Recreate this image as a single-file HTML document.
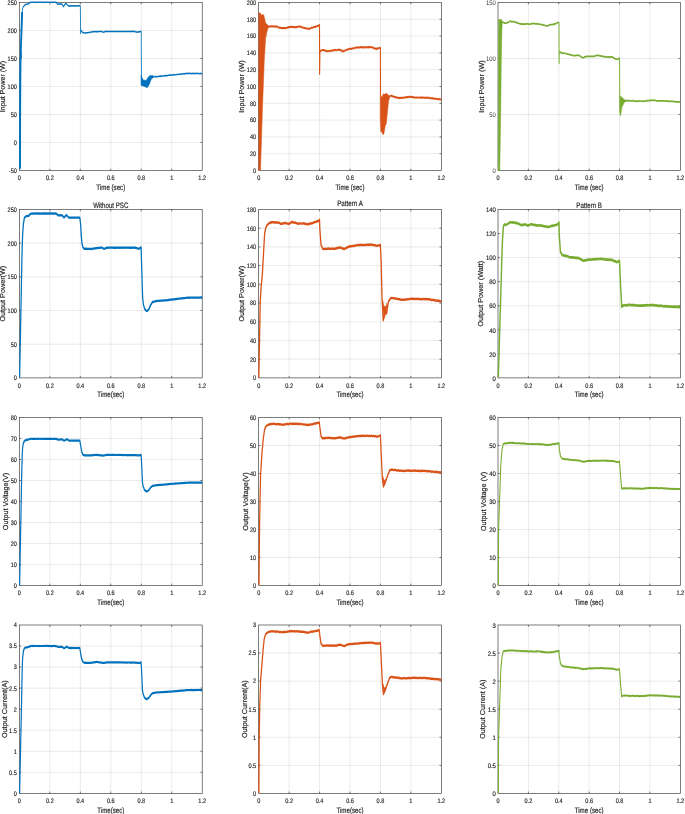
<!DOCTYPE html>
<html><head><meta charset="utf-8"><title>Simulation results</title>
<style>html,body{margin:0;padding:0;background:#fff;}body{width:685px;height:814px;overflow:hidden;}svg{display:block;}text{font-family:"Liberation Sans",Arial,Helvetica,sans-serif;fill:#262626;text-rendering:geometricPrecision;stroke:#262626;stroke-width:0.18px;}</style>
</head><body>
<svg width="685" height="814" viewBox="0 0 685 814">
<rect width="685" height="814" fill="#fff"/>
<path d="M49.87 2.5V170.5M80.33 2.5V170.5M110.8 2.5V170.5M141.27 2.5V170.5M171.73 2.5V170.5M19.4 142.5H202.2M19.4 114.5H202.2M19.4 86.5H202.2M19.4 58.5H202.2M19.4 30.5H202.2" stroke="#262626" stroke-opacity="0.13" stroke-width="0.7" fill="none"/>
<path d="M49.87 170.5v-1.8M49.87 2.5v1.8M80.33 170.5v-1.8M80.33 2.5v1.8M110.8 170.5v-1.8M110.8 2.5v1.8M141.27 170.5v-1.8M141.27 2.5v1.8M171.73 170.5v-1.8M171.73 2.5v1.8M19.4 142.5h1.8M202.2 142.5h-1.8M19.4 114.5h1.8M202.2 114.5h-1.8M19.4 86.5h1.8M202.2 86.5h-1.8M19.4 58.5h1.8M202.2 58.5h-1.8M19.4 30.5h1.8M202.2 30.5h-1.8" stroke="#262626" stroke-width="0.6" fill="none"/>
<rect x="19.4" y="2.5" width="182.8" height="168" stroke="#262626" stroke-width="0.6" fill="none"/>
<g transform="translate(19.4 0) scale(1 1)"><polyline points="0.6,168.8 0.7,120 0.9,80 1.1,60 1.6,57 1.4,50 2.1,30 2.7,12" fill="none" stroke="#0072BD" stroke-width="1.9" stroke-linejoin="round" stroke-linecap="butt"/></g>
<g transform="translate(19.4 0) scale(0.55 1)"><polyline points="3.82,30 5.27,10.2 6.73,7.2 10.55,4.6 11.45,4.47 12.36,4.38 13.27,4.33 14.18,4.13 15.09,4.02 16,3.9 16.97,3.48 17.94,2.97 18.91,2.6 20,2.45 21.09,2.3 21.91,2.33 22.73,2.36 23.56,2.22 24.38,2.26 25.2,2.22 26.02,2.36 26.84,2.34 27.66,2.21 28.48,2.4 29.31,2.39 30.13,2.33 30.95,2.32 31.77,2.23 32.59,2.2 33.41,2.31 34.23,2.21 35.06,2.24 35.88,2.25 36.7,2.21 37.52,2.29 38.34,2.29 39.16,2.37 39.98,2.3 40.81,2.33 41.63,2.3 42.45,2.33 43.27,2.29 44.09,2.26 44.91,2.4 45.73,2.4 46.56,2.37 47.38,2.34 48.2,2.26 49.02,2.25 49.84,2.26 50.66,2.21 51.48,2.35 52.31,2.28 53.13,2.37 53.95,2.28 54.77,2.39 55.59,2.37 56.41,2.2 57.23,2.24 58.06,2.38 58.88,2.29 59.7,2.4 60.52,2.28 61.34,2.21 62.16,2.33 62.98,2.36 63.81,2.25 64.63,2.22 65.45,2.27 66.27,2.39 67.09,2.3 69.09,4.1 69.93,4.15 70.76,4.02 71.6,4.05 72.44,4.02 73.27,4.01 74.11,4.16 74.95,4.04 75.78,4.11 76.62,4.09 77.45,4.1 80.18,6.6 83.82,3.6 84.73,3.69 85.64,3.9 89.45,6.1 90.27,6.05 91.09,5.9 91.94,5.83 92.8,5.93 93.65,5.82 94.51,5.88 95.36,5.84 96.21,5.85 97.07,5.99 97.92,5.96 98.77,5.86 99.63,5.98 100.48,5.84 101.34,5.88 102.19,5.97 103.04,5.93 103.9,5.82 104.75,6 105.6,5.84 106.46,5.85 107.31,5.95 108.17,5.87 109.02,5.86 109.87,5.81 110.73,5.9 111.27,33.2 112.18,30.2 114.73,32.5 115.76,32.58 116.79,32.85 117.82,33 118.66,32.89 119.5,32.91 120.35,32.81 121.19,32.77 122.03,32.82 122.88,32.67 123.72,32.63 124.56,32.64 125.4,32.45 126.25,32.39 127.09,32.4 127.92,32.4 128.75,32.31 129.58,32.12 130.4,32.03 131.23,32.06 132.06,32.02 132.89,31.79 133.72,31.87 134.55,31.7 135.37,31.77 136.2,31.7 137.03,31.65 137.86,31.58 138.69,31.55 139.52,31.73 140.34,31.57 141.17,31.65 142,31.55 142.83,31.65 143.66,31.6 144.48,31.53 145.31,31.49 146.14,31.59 146.97,31.45 147.8,31.47 148.63,31.52 149.45,31.5 150.36,31.75 151.27,31.87 152.18,31.98 153.09,32.2 154.05,32.11 155,31.79 155.95,31.58 156.91,31.5 157.73,31.45 158.56,31.49 159.39,31.41 160.21,31.43 161.04,31.47 161.86,31.5 162.69,31.42 163.51,31.46 164.34,31.56 165.16,31.58 165.99,31.51 166.81,31.52 167.64,31.5 168.46,31.41 169.29,31.38 170.12,31.38 170.94,31.56 171.77,31.51 172.59,31.56 173.42,31.37 174.24,31.49 175.07,31.46 175.89,31.51 176.72,31.43 177.54,31.56 178.37,31.37 179.19,31.47 180.02,31.5 180.85,31.53 181.67,31.5 182.5,31.49 183.32,31.51 184.15,31.53 184.97,31.42 185.8,31.48 186.62,31.52 187.45,31.52 188.27,31.42 189.1,31.5 189.92,31.51 190.75,31.45 191.58,31.46 192.4,31.41 193.23,31.45 194.05,31.45 194.88,31.34 195.7,31.45 196.53,31.52 197.35,31.5 198.18,31.47 199,31.4 199.83,31.46 200.66,31.43 201.48,31.4 202.31,31.48 203.13,31.33 203.96,31.46 204.78,31.31 205.61,31.43 206.43,31.4 207.26,31.35 208.08,31.44 208.91,31.4 209.82,31.53 210.73,31.69 211.64,31.88 212.55,31.88 213.45,31.97 214.36,32.2 215.3,32.04 216.24,32 217.18,31.79 218.12,31.67 219.06,31.7 220,31.5 221.45,31.5 221.82,80" fill="none" stroke="#0072BD" stroke-width="1.5" stroke-linejoin="round" stroke-linecap="butt"/></g>
<polygon points="141,75.4 143.2,80 146.2,80.5 148.3,77 150.3,75.4 153,75.6 153.4,77.5 151.3,79 149.3,84.6 147.3,87.7 144.2,86.4 141,85.3" fill="#0072BD" stroke="#0072BD" stroke-width="0.5" stroke-linejoin="round"/>
<g transform="translate(19.4 0) scale(0.55 1)"><polyline points="242,76.6 242.88,76.62 243.76,76.75 244.64,76.78 245.52,76.55 246.39,76.52 247.27,76.8 248.1,76.69 248.92,76.59 249.74,76.81 250.57,76.7 251.39,76.6 252.21,76.53 253.04,76.53 253.86,76.22 254.68,76.32 255.51,76.13 256.33,76.45 257.16,75.98 257.98,76.31 258.8,75.89 259.63,76.14 260.45,75.92 261.27,75.9 262.1,76.07 262.92,75.61 263.74,75.58 264.57,75.96 265.39,75.7 266.21,75.45 267.04,75.84 267.86,75.77 268.68,75.31 269.51,75.41 270.33,75.22 271.16,75.26 271.98,75.36 272.8,75.08 273.63,75.3 274.45,74.93 275.27,75.1 276.1,74.89 276.93,75.17 277.76,74.92 278.58,74.88 279.41,74.92 280.24,74.82 281.07,74.73 281.89,74.51 282.72,74.81 283.55,74.89 284.38,74.85 285.21,74.64 286.03,74.45 286.86,74.41 287.69,74.52 288.52,74.47 289.34,74.15 290.17,74.16 291,74.18 291.83,74.21 292.66,74.32 293.48,74.12 294.31,73.84 295.14,74.19 295.97,73.95 296.79,73.95 297.62,73.75 298.45,73.81 299.28,73.75 300.11,73.89 300.93,73.51 301.76,73.69 302.59,73.46 303.42,73.68 304.24,73.3 305.07,73.38 305.9,73.37 306.73,73.4 307.55,73.47 308.37,73.19 309.19,73.4 310.01,73.28 310.83,73.32 311.65,73.43 312.48,73.67 313.3,73.44 314.12,73.69 314.94,73.3 315.76,73.68 316.58,73.41 317.4,73.33 318.22,73.61 319.04,73.7 319.87,73.26 320.69,73.39 321.51,73.65 322.33,73.44 323.15,73.4 323.97,73.29 324.79,73.31 325.61,73.61 326.43,73.8 327.26,73.81 328.08,73.57 328.9,73.34 329.72,73.49 330.54,73.73 331.36,73.76 332.18,73.6" fill="none" stroke="#0072BD" stroke-width="1.5" stroke-linejoin="round" stroke-linecap="butt"/></g>
<text transform="translate(16.8 172.85) scale(0.84 1)" font-size="6.6" text-anchor="end">-50</text>
<text transform="translate(16.8 144.85) scale(0.84 1)" font-size="6.6" text-anchor="end">0</text>
<text transform="translate(16.8 116.85) scale(0.84 1)" font-size="6.6" text-anchor="end">50</text>
<text transform="translate(16.8 88.85) scale(0.84 1)" font-size="6.6" text-anchor="end">100</text>
<text transform="translate(16.8 60.85) scale(0.84 1)" font-size="6.6" text-anchor="end">150</text>
<text transform="translate(16.8 32.85) scale(0.84 1)" font-size="6.6" text-anchor="end">200</text>
<text transform="translate(16.8 4.85) scale(0.84 1)" font-size="6.6" text-anchor="end">250</text>
<text transform="translate(19.4 180.3) scale(0.84 1)" font-size="6.6" text-anchor="middle">0</text>
<text transform="translate(49.87 180.3) scale(0.84 1)" font-size="6.6" text-anchor="middle">0.2</text>
<text transform="translate(80.33 180.3) scale(0.84 1)" font-size="6.6" text-anchor="middle">0.4</text>
<text transform="translate(110.8 180.3) scale(0.84 1)" font-size="6.6" text-anchor="middle">0.6</text>
<text transform="translate(141.27 180.3) scale(0.84 1)" font-size="6.6" text-anchor="middle">0.8</text>
<text transform="translate(171.73 180.3) scale(0.84 1)" font-size="6.6" text-anchor="middle">1</text>
<text transform="translate(202.2 180.3) scale(0.84 1)" font-size="6.6" text-anchor="middle">1.2</text>
<text transform="translate(5 86.5) rotate(-90)" font-size="7.2" text-anchor="middle" textLength="51.3" lengthAdjust="spacingAndGlyphs">Input Power (W)</text>
<text x="110.8" y="189.7" font-size="7.8" text-anchor="middle" textLength="28.9" lengthAdjust="spacingAndGlyphs">Time (sec)</text>
<path d="M289.13 2.5V170.5M319.57 2.5V170.5M350 2.5V170.5M380.43 2.5V170.5M410.87 2.5V170.5M258.7 153.7H441.3M258.7 136.9H441.3M258.7 120.1H441.3M258.7 103.3H441.3M258.7 86.5H441.3M258.7 69.7H441.3M258.7 52.9H441.3M258.7 36.1H441.3M258.7 19.3H441.3" stroke="#262626" stroke-opacity="0.13" stroke-width="0.7" fill="none"/>
<path d="M289.13 170.5v-1.8M289.13 2.5v1.8M319.57 170.5v-1.8M319.57 2.5v1.8M350 170.5v-1.8M350 2.5v1.8M380.43 170.5v-1.8M380.43 2.5v1.8M410.87 170.5v-1.8M410.87 2.5v1.8M258.7 153.7h1.8M441.3 153.7h-1.8M258.7 136.9h1.8M441.3 136.9h-1.8M258.7 120.1h1.8M441.3 120.1h-1.8M258.7 103.3h1.8M441.3 103.3h-1.8M258.7 86.5h1.8M441.3 86.5h-1.8M258.7 69.7h1.8M441.3 69.7h-1.8M258.7 52.9h1.8M441.3 52.9h-1.8M258.7 36.1h1.8M441.3 36.1h-1.8M258.7 19.3h1.8M441.3 19.3h-1.8" stroke="#262626" stroke-width="0.6" fill="none"/>
<rect x="258.7" y="2.5" width="182.6" height="168" stroke="#262626" stroke-width="0.6" fill="none"/>
<polygon points="258.8,170.4 260.5,170.4 262.6,104 264.3,60 265.6,38.5 266.8,32.5 267.8,28.5 268.6,27.2 268.1,25.5 265.5,22.8 263.8,14.9 262.5,14.5 261.5,15.5 260.5,13.2 258.8,12.8" fill="#D95319" stroke="#D95319" stroke-width="0.5" stroke-linejoin="round"/>
<g transform="translate(258.7 0) scale(0.55 1)"><polyline points="16,26.8 16.91,26.57 17.82,26.8 18.76,26.81 19.71,26.65 20.65,26.43 21.6,26.12 22.55,26.2 23.41,26.45 24.28,26.51 25.15,26.35 26.01,26.39 26.88,26.25 27.75,26.13 28.62,26.43 29.48,26.63 30.35,26.31 31.22,26.87 32.08,26.52 32.95,26.57 33.82,26.8 34.73,26.67 35.64,27.52 36.55,27.52 37.45,27.81 38.36,27.81 39.27,27.59 40.18,28.1 41.04,27.97 41.9,28.08 42.76,27.8 43.62,28.38 44.48,27.96 45.34,27.8 46.2,28.26 47.06,27.76 47.92,28.32 48.78,27.98 49.64,28 50.51,27.91 51.39,27.64 52.26,27.61 53.14,27.27 54.02,27.04 54.89,27.49 55.77,26.92 56.64,27.18 57.52,26.65 58.4,27.06 59.27,26.6 60.18,26.98 61.09,26.98 62,27.08 62.91,27.06 63.82,27.26 64.73,26.94 65.64,27.3 66.53,27.18 67.41,27.33 68.3,26.79 69.19,27.2 70.08,27.07 70.97,26.64 71.86,26.51 72.75,26.47 73.64,26.4 74.51,26.46 75.37,27.04 76.24,26.75 77.11,26.65 77.98,26.84 78.85,27.42 79.72,27.76 80.59,27.55 81.45,27.7 82.33,27.81 83.21,27.97 84.08,28.23 84.96,27.98 85.83,28.37 86.71,28.45 87.59,28.61 88.46,28.42 89.34,28.53 90.21,28.78 91.09,29 91.98,29.11 92.87,28.51 93.76,28.5 94.65,28.11 95.54,27.78 96.42,27.56 97.31,27.9 98.2,27.68 99.09,27.3 99.96,27.06 100.83,27.12 101.7,26.96 102.57,26.96 103.43,26.84 104.3,26.3 105.17,26.55 106.04,26.38 106.91,25.9 107.82,25.7 108.73,25.63 109.64,25.1 110.55,25.3 110.73,74 111.27,52 113.09,50.4 113.97,50.34 114.85,50.21 115.73,50.07 116.61,50.46 117.48,49.91 118.36,50.1 119.23,49.96 120.09,50.64 120.95,50.78 121.82,50.74 122.68,51.15 123.55,50.76 124.41,51.07 125.27,51.4 126.16,51.15 127.05,51.14 127.95,50.87 128.84,50.7 129.73,50.79 130.62,51.08 131.51,51.04 132.4,50.77 133.29,50.49 134.18,50.4 135.05,50.17 135.92,50.61 136.79,50.25 137.66,50.33 138.53,49.78 139.4,49.86 140.27,50.24 141.14,50.15 142.01,50.15 142.88,49.9 143.75,49.72 144.62,49.77 145.49,49.9 146.36,49.6 147.23,49.69 148.09,50.07 148.95,50.12 149.82,50.69 150.68,50.38 151.55,51.08 152.41,51.49 153.27,51.4 154.16,50.84 155.05,51.02 155.93,50.83 156.82,50.75 157.7,50.33 158.59,49.88 159.48,49.76 160.36,49.6 161.24,49.83 162.12,49.7 163,49.07 163.88,48.95 164.76,48.86 165.64,48.72 166.52,48.92 167.39,48.62 168.27,49.03 169.15,48.79 170.03,48.33 170.91,48.5 171.79,48.42 172.67,48.16 173.55,48.17 174.42,47.87 175.3,47.72 176.18,47.63 177.06,47.66 177.94,47.78 178.82,47.56 179.7,47.1 180.58,47.46 181.45,47.2 182.32,47.49 183.18,47.44 184.05,47.48 184.91,46.96 185.77,47.3 186.64,47.04 187.5,47.56 188.36,47.17 189.23,47.57 190.09,47.28 190.95,47.61 191.82,47.5 192.64,47.34 193.47,47.11 194.29,47.32 195.12,47.23 195.94,47.61 196.76,47.16 197.59,47.27 198.41,47.27 199.24,47.51 200.06,46.89 200.88,47.2 201.71,47.11 202.53,47.23 203.36,47.36 204.18,47 205.06,47.03 205.94,47.47 206.82,47.52 207.7,47.71 208.58,47.53 209.45,48.22 210.33,48.5 211.21,48.23 212.09,48.37 212.97,49.01 213.85,48.56 214.73,49 215.61,48.49 216.48,48.27 217.36,48.57 218.24,48.32 219.12,47.88 220,47.7 221.27,48 221.45,94" fill="none" stroke="#D95319" stroke-width="2" stroke-linejoin="round" stroke-linecap="butt"/></g>
<polygon points="380.2,93.8 382,97.6 383.3,93.8 384.5,94.3 386.4,93.3 388.9,95.5 389.8,96.8 388.5,101.5 387.2,114.4 386.4,123 385.1,126.5 383.8,134.2 382.9,134.6 382,132.5 380.8,131.6 380.2,118.7" fill="#D95319" stroke="#D95319" stroke-width="0.5" stroke-linejoin="round"/>
<g transform="translate(258.7 0) scale(0.55 1)"><polyline points="237.82,95.7 238.91,96.12 240,95.9 240.84,95.77 241.69,95.8 242.53,96.6 243.37,96.15 244.21,96.23 245.06,96.72 245.9,96.62 246.74,97.12 247.59,96.78 248.43,97.4 249.27,97.2 250.14,97.16 251.01,97.45 251.88,97.77 252.75,97.69 253.62,97.94 254.48,97.88 255.35,97.51 256.22,98.18 257.09,98 257.98,97.99 258.87,97.73 259.76,97.57 260.65,97.96 261.55,97.71 262.44,97.89 263.33,97.7 264.22,97.76 265.11,97.42 266,97.3 266.84,97.39 267.67,97.28 268.51,96.98 269.35,97.42 270.18,96.92 271.02,97.2 271.85,97.27 272.69,97.01 273.53,96.6 274.36,96.8 275.26,97.09 276.15,97.04 277.04,96.77 277.93,96.74 278.83,97.14 279.72,96.85 280.61,97.54 281.5,97.31 282.4,97.38 283.29,97.37 284.18,97.5 285.07,97.62 285.96,97.81 286.85,97.4 287.75,97.45 288.64,97.61 289.53,97.42 290.42,97.64 291.31,97.61 292.2,97.54 293.09,97.6 293.96,97.72 294.84,97.62 295.71,97.31 296.58,97.95 297.45,97.5 298.33,97.55 299.2,97.53 300.07,97.9 300.95,97.92 301.82,97.6 302.66,97.65 303.49,97.62 304.33,97.45 305.17,98.05 306.01,97.59 306.85,97.9 307.69,97.81 308.53,97.84 309.36,97.9 310.2,97.83 311.04,97.76 311.88,98.16 312.72,98.38 313.56,98.33 314.39,98.06 315.23,98.45 316.07,98.04 316.91,98.4 317.74,98.39 318.57,98.73 319.39,98.84 320.22,98.57 321.05,98.89 321.88,98.7 322.71,98.77 323.54,98.86 324.36,99.19 325.19,99.07 326.02,98.93 326.85,99.16 327.68,99.15 328.51,99 329.33,99.35 330.16,99.42 330.99,99.33 331.82,99.3" fill="none" stroke="#D95319" stroke-width="2" stroke-linejoin="round" stroke-linecap="butt"/></g>
<text transform="translate(256.1 172.85) scale(0.84 1)" font-size="6.6" text-anchor="end">0</text>
<text transform="translate(256.1 156.05) scale(0.84 1)" font-size="6.6" text-anchor="end">20</text>
<text transform="translate(256.1 139.25) scale(0.84 1)" font-size="6.6" text-anchor="end">40</text>
<text transform="translate(256.1 122.45) scale(0.84 1)" font-size="6.6" text-anchor="end">60</text>
<text transform="translate(256.1 105.65) scale(0.84 1)" font-size="6.6" text-anchor="end">80</text>
<text transform="translate(256.1 88.85) scale(0.84 1)" font-size="6.6" text-anchor="end">100</text>
<text transform="translate(256.1 72.05) scale(0.84 1)" font-size="6.6" text-anchor="end">120</text>
<text transform="translate(256.1 55.25) scale(0.84 1)" font-size="6.6" text-anchor="end">140</text>
<text transform="translate(256.1 38.45) scale(0.84 1)" font-size="6.6" text-anchor="end">160</text>
<text transform="translate(256.1 21.65) scale(0.84 1)" font-size="6.6" text-anchor="end">180</text>
<text transform="translate(256.1 4.85) scale(0.84 1)" font-size="6.6" text-anchor="end">200</text>
<text transform="translate(258.7 180.3) scale(0.84 1)" font-size="6.6" text-anchor="middle">0</text>
<text transform="translate(289.13 180.3) scale(0.84 1)" font-size="6.6" text-anchor="middle">0.2</text>
<text transform="translate(319.57 180.3) scale(0.84 1)" font-size="6.6" text-anchor="middle">0.4</text>
<text transform="translate(350 180.3) scale(0.84 1)" font-size="6.6" text-anchor="middle">0.6</text>
<text transform="translate(380.43 180.3) scale(0.84 1)" font-size="6.6" text-anchor="middle">0.8</text>
<text transform="translate(410.87 180.3) scale(0.84 1)" font-size="6.6" text-anchor="middle">1</text>
<text transform="translate(441.3 180.3) scale(0.84 1)" font-size="6.6" text-anchor="middle">1.2</text>
<text transform="translate(244.4 86.5) rotate(-90)" font-size="7.2" text-anchor="middle" textLength="52.3" lengthAdjust="spacingAndGlyphs">Input Power (W)</text>
<text x="350" y="189.7" font-size="7.8" text-anchor="middle" textLength="28.9" lengthAdjust="spacingAndGlyphs">Time (sec)</text>
<path d="M528.38 2.5V170.5M558.77 2.5V170.5M589.15 2.5V170.5M619.53 2.5V170.5M649.92 2.5V170.5M498 114.5H680.3M498 58.5H680.3" stroke="#262626" stroke-opacity="0.13" stroke-width="0.7" fill="none"/>
<path d="M528.38 170.5v-1.8M528.38 2.5v1.8M558.77 170.5v-1.8M558.77 2.5v1.8M589.15 170.5v-1.8M589.15 2.5v1.8M619.53 170.5v-1.8M619.53 2.5v1.8M649.92 170.5v-1.8M649.92 2.5v1.8M498 114.5h1.8M680.3 114.5h-1.8M498 58.5h1.8M680.3 58.5h-1.8" stroke="#262626" stroke-width="0.6" fill="none"/>
<rect x="498" y="2.5" width="182.3" height="168" stroke="#262626" stroke-width="0.6" fill="none"/>
<polygon points="498.3,170.4 499.8,170.4 500.6,120 501.3,60 501.9,30 502.3,22.5 501.8,19.8 500.6,19.2 499.5,19.6 498.6,19.3" fill="#77AC30" stroke="#77AC30" stroke-width="0.5" stroke-linejoin="round"/>
<g transform="translate(498 0) scale(0.55 1)"><polyline points="6.91,21.5 8.36,22.3 9.3,22.21 10.24,22.47 11.18,22.84 12.12,23.21 13.06,23.08 14,23.5 14.87,23.03 15.74,22.87 16.61,22.95 17.47,22.36 18.34,22.48 19.21,22.2 20.08,21.65 20.95,21.65 21.82,21.4 22.71,21.43 23.6,21.47 24.49,21.88 25.38,21.4 26.27,21.41 27.16,22.02 28.05,21.76 28.95,21.7 29.84,21.84 30.73,22 31.64,22.1 32.55,22.63 33.45,22.37 34.36,22.55 35.27,22.9 36.09,23.09 36.91,23.2 37.73,23.58 38.55,23.65 39.36,23.5 40.18,23.55 41,24.06 41.82,24 42.65,24.29 43.49,23.72 44.32,24.14 45.16,24.22 45.99,24.09 46.82,23.83 47.66,24.18 48.49,24.14 49.33,23.82 50.16,24.08 50.99,23.83 51.83,23.72 52.66,23.9 53.5,23.9 54.33,23.94 55.17,24.09 56,24 56.83,24.15 57.66,24.17 58.48,24.12 59.31,24.07 60.14,23.9 60.97,23.55 61.8,23.42 62.63,23.63 63.45,23.5 64.31,23.57 65.16,23.68 66.01,23.37 66.87,23.47 67.72,23.94 68.57,23.79 69.43,23.89 70.28,23.57 71.13,23.79 71.99,24.13 72.84,24.01 73.69,24.26 74.55,24 75.37,23.93 76.2,24.2 77.03,24.51 77.86,24.41 78.69,24.73 79.52,24.7 80.34,24.55 81.17,24.65 82,25.29 82.83,24.88 83.66,25.04 84.48,25.23 85.31,25.57 86.14,25.77 86.97,25.65 87.8,25.78 88.63,26.06 89.45,26 90.28,25.7 91.11,25.59 91.94,25.57 92.77,25.42 93.6,24.89 94.42,24.77 95.25,24.62 96.08,24.8 96.91,24.5 97.74,24.55 98.57,24.65 99.39,24.46 100.22,24.09 101.05,24.33 101.88,24.39 102.71,23.94 103.54,23.67 104.36,23.9 105.3,23.59 106.24,23.3 107.18,23.01 108.12,22.69 109.06,22.51 110,22.5 110.91,22.6 111.09,63.5 111.45,52 112.55,51.5 114.55,53 115.44,53.27 116.33,52.84 117.22,53.23 118.12,53.04 119.01,53.09 119.9,53.52 120.79,53.26 121.69,53.25 122.58,53.46 123.47,53.66 124.36,53.6 125.22,53.76 126.08,54.1 126.94,53.97 127.79,54.19 128.65,54.44 129.51,54.43 130.36,54.6 131.25,54.85 132.14,54.82 133.03,54.75 133.92,54.86 134.81,55.38 135.7,55.48 136.59,55.72 137.47,55.69 138.36,55.7 139.25,55.71 140.15,55.42 141.04,55.79 141.93,55.31 142.82,55.45 143.71,55.24 144.6,55.35 145.49,55.26 146.38,55.3 147.27,55.3 148.14,55.75 149,55.97 149.86,56.12 150.73,56.77 151.59,57.07 152.45,57.45 153.32,57.29 154.18,57.9 155.04,57.75 155.9,57.71 156.75,57.11 157.61,56.86 158.47,57.02 159.32,56.53 160.18,56.4 161.01,56.34 161.83,56.59 162.65,56.33 163.48,56.22 164.3,56.23 165.12,56.31 165.95,56.52 166.77,56.32 167.59,56.56 168.42,56.14 169.24,56.25 170.06,56.47 170.89,56.39 171.71,56.4 172.53,56.66 173.36,56.27 174.18,56.4 175.07,56.09 175.96,55.88 176.85,56.02 177.74,55.79 178.63,55.77 179.52,55.37 180.4,55.24 181.29,55.35 182.18,55.3 183.03,55.56 183.87,55.39 184.71,55.87 185.56,55.78 186.4,55.78 187.25,56.11 188.09,55.89 188.94,56.22 189.78,56.47 190.62,56.4 191.47,56.37 192.31,56.34 193.16,56.74 194,56.8 194.82,56.63 195.65,56.76 196.47,56.88 197.29,57.14 198.12,56.99 198.94,56.92 199.76,57.14 200.59,56.83 201.41,56.89 202.24,57.08 203.06,57.03 203.88,56.84 204.71,56.98 205.53,57.24 206.35,56.91 207.18,57.21 208,57.1 208.89,57.1 209.78,57.91 210.67,58.01 211.56,58.06 212.44,58.72 213.33,58.88 214.22,58.7 215.11,59.08 216,59.5 217,59.22 218,59.25 219,58.46 220,58.4 221.09,58.6 221.45,96.5" fill="none" stroke="#77AC30" stroke-width="1.7" stroke-linejoin="round" stroke-linecap="butt"/></g>
<polygon points="619.4,96 621,96.5 624,99.3 626.8,101 624.2,102.6 621.8,107.5 620.6,115.8 619.6,112.5" fill="#77AC30" stroke="#77AC30" stroke-width="0.5" stroke-linejoin="round"/>
<g transform="translate(498 0) scale(0.55 1)"><polyline points="232.73,100.6 233.55,100.36 234.38,100.46 235.2,100.53 236.03,100.9 236.85,100.67 237.68,100.82 238.5,100.47 239.33,100.73 240.15,100.94 240.98,100.77 241.8,101.04 242.63,101.01 243.45,100.8 244.28,100.77 245.11,100.59 245.94,101.09 246.77,100.75 247.6,100.73 248.42,101.21 249.25,101.32 250.08,101.36 250.91,101.2 251.73,101.48 252.56,101.03 253.38,100.97 254.21,101 255.03,101.52 255.85,101.01 256.68,101.04 257.5,100.97 258.33,100.99 259.15,100.99 259.98,101.19 260.8,101.08 261.62,101.17 262.45,101.55 263.27,101.3 264.1,101.04 264.92,101.37 265.74,101.27 266.57,101.11 267.39,101.05 268.21,101.11 269.04,100.94 269.86,100.67 270.68,100.67 271.51,100.56 272.33,100.59 273.16,100.89 273.98,100.49 274.8,100.22 275.63,100.4 276.45,100.55 277.27,100.3 278.11,100.29 278.96,100.47 279.8,100.13 280.64,100.14 281.48,100.53 282.33,100.19 283.17,100.37 284.01,100.44 284.85,100.35 285.69,100.28 286.54,100.29 287.38,100.89 288.22,100.76 289.06,100.94 289.9,100.69 290.75,100.99 291.59,100.96 292.43,100.84 293.27,100.8 294.14,100.83 295,100.84 295.86,100.69 296.73,100.79 297.59,101.02 298.45,100.72 299.32,101.13 300.18,100.94 301.05,101.01 301.91,101.16 302.77,101.07 303.64,101 304.52,100.81 305.4,100.89 306.28,100.77 307.16,100.81 308.04,101.39 308.92,101.19 309.8,101.44 310.69,101.35 311.57,101.1 312.45,101.51 313.33,101.51 314.21,101.25 315.09,101.3 315.94,101.09 316.79,101.28 317.65,101.23 318.5,101.39 319.35,101.26 320.2,101.68 321.05,101.88 321.9,101.46 322.76,101.85 323.61,101.77 324.46,101.75 325.31,102.05 326.16,101.77 327.01,102.08 327.87,101.65 328.72,102.25 329.57,101.83 330.42,101.76 331.27,102.1" fill="none" stroke="#77AC30" stroke-width="1.7" stroke-linejoin="round" stroke-linecap="butt"/></g>
<text transform="translate(495.9 173.25) scale(0.9 1)" font-size="6.6" text-anchor="end" style="stroke-width:0;fill:#3a3a3a">0</text>
<text transform="translate(495.9 117.25) scale(0.9 1)" font-size="6.6" text-anchor="end" style="stroke-width:0;fill:#3a3a3a">50</text>
<text transform="translate(495.9 61.25) scale(0.9 1)" font-size="6.6" text-anchor="end" style="stroke-width:0;fill:#3a3a3a">100</text>
<text transform="translate(495.9 5.25) scale(0.9 1)" font-size="6.6" text-anchor="end" style="stroke-width:0;fill:#3a3a3a">150</text>
<text transform="translate(498 180.3) scale(0.84 1)" font-size="6.6" text-anchor="middle">0</text>
<text transform="translate(528.38 180.3) scale(0.84 1)" font-size="6.6" text-anchor="middle">0.2</text>
<text transform="translate(558.77 180.3) scale(0.84 1)" font-size="6.6" text-anchor="middle">0.4</text>
<text transform="translate(589.15 180.3) scale(0.84 1)" font-size="6.6" text-anchor="middle">0.6</text>
<text transform="translate(619.53 180.3) scale(0.84 1)" font-size="6.6" text-anchor="middle">0.8</text>
<text transform="translate(649.92 180.3) scale(0.84 1)" font-size="6.6" text-anchor="middle">1</text>
<text transform="translate(680.3 180.3) scale(0.84 1)" font-size="6.6" text-anchor="middle">1.2</text>
<text transform="translate(483.6 86.5) rotate(-90)" font-size="7.2" text-anchor="middle" textLength="52.3" lengthAdjust="spacingAndGlyphs">Input Power (W)</text>
<text x="589.15" y="189.7" font-size="7.8" text-anchor="middle" textLength="28.9" lengthAdjust="spacingAndGlyphs">Time (sec)</text>
<path d="M49.87 209.5V377.9M80.33 209.5V377.9M110.8 209.5V377.9M141.27 209.5V377.9M171.73 209.5V377.9M19.4 344.22H202.2M19.4 310.54H202.2M19.4 276.86H202.2M19.4 243.18H202.2" stroke="#262626" stroke-opacity="0.13" stroke-width="0.7" fill="none"/>
<path d="M49.87 377.9v-1.8M49.87 209.5v1.8M80.33 377.9v-1.8M80.33 209.5v1.8M110.8 377.9v-1.8M110.8 209.5v1.8M141.27 377.9v-1.8M141.27 209.5v1.8M171.73 377.9v-1.8M171.73 209.5v1.8M19.4 344.22h1.8M202.2 344.22h-1.8M19.4 310.54h1.8M202.2 310.54h-1.8M19.4 276.86h1.8M202.2 276.86h-1.8M19.4 243.18h1.8M202.2 243.18h-1.8" stroke="#262626" stroke-width="0.6" fill="none"/>
<rect x="19.4" y="209.5" width="182.8" height="168.4" stroke="#262626" stroke-width="0.6" fill="none"/>
<g transform="translate(19.4 0) scale(0.55 1)"><polyline points="0.36,377.5 4.55,259 5.27,243.5 6,233.4 7.27,223.9 9.09,217.8 11.27,216.6 12.18,216.42 13.09,216.23 14,216.1 15.03,215.96 16.06,215.95 17.09,215.8 20.18,213.8 21.09,213.75 22,213.7 22.91,213.63 23.82,213.55 24.73,213.5 25.56,213.53 26.39,213.51 27.23,213.53 28.06,213.52 28.89,213.54 29.72,213.49 30.56,213.46 31.39,213.46 32.22,213.53 33.05,213.46 33.89,213.52 34.72,213.51 35.55,213.45 36.39,213.53 37.22,213.44 38.05,213.54 38.88,213.54 39.72,213.47 40.55,213.53 41.38,213.53 42.21,213.46 43.05,213.52 43.88,213.45 44.71,213.55 45.55,213.52 46.38,213.56 47.21,213.45 48.04,213.48 48.88,213.51 49.71,213.51 50.54,213.46 51.37,213.55 52.21,213.54 53.04,213.48 53.87,213.46 54.71,213.52 55.54,213.49 56.37,213.52 57.2,213.5 58.04,213.49 58.87,213.44 59.7,213.46 60.53,213.5 61.37,213.53 62.2,213.49 63.03,213.53 63.87,213.5 64.7,213.55 65.53,213.52 66.36,213.5 67.2,213.84 68.04,214.18 68.87,214.53 69.71,214.88 70.55,215.3 71.37,215.34 72.2,215.34 73.03,215.33 73.86,215.25 74.69,215.32 75.52,215.26 76.34,215.35 77.17,215.32 78,215.3 81.09,217.6 85.45,214.9 89.64,217.6 90.48,217.63 91.32,217.61 92.16,217.59 93,217.64 93.84,217.66 94.68,217.57 95.52,217.59 96.36,217.63 97.2,217.62 98.05,217.59 98.89,217.59 99.73,217.66 100.57,217.57 101.41,217.57 102.25,217.62 103.09,217.57 103.93,217.65 104.77,217.58 105.61,217.65 106.45,217.59 107.3,217.65 108.14,217.63 108.98,217.63 109.82,217.6 111.27,224 112.36,235 113.82,243.5 115.64,247.5 117.82,248.8 118.65,248.77 119.48,248.76 120.31,248.74 121.14,248.76 121.97,248.82 122.81,248.75 123.64,248.8 124.55,248.8 125.45,248.87 126.36,248.84 127.27,248.89 128.18,248.91 129.09,248.99 130,249 130.83,248.88 131.66,248.9 132.48,248.78 133.31,248.71 134.14,248.62 134.97,248.53 135.8,248.51 136.63,248.43 137.45,248.3 138.28,248.29 139.1,248.14 139.93,248.15 140.75,248.14 141.58,248.05 142.4,247.98 143.22,247.94 144.05,247.83 144.87,247.85 145.7,247.8 146.52,247.66 147.35,247.66 148.17,247.62 148.99,247.54 149.82,247.5 150.73,247.78 151.64,248.07 152.55,248.33 153.45,248.52 154.36,248.8 155.27,248.54 156.18,248.4 157.09,248.15 158,247.96 158.91,247.7 159.73,247.74 160.55,247.67 161.38,247.71 162.2,247.68 163.02,247.74 163.84,247.72 164.67,247.67 165.49,247.7 166.31,247.71 167.13,247.67 167.96,247.66 168.78,247.7 169.6,247.65 170.42,247.7 171.25,247.75 172.07,247.74 172.89,247.65 173.71,247.74 174.54,247.73 175.36,247.72 176.18,247.64 177,247.73 177.83,247.66 178.65,247.74 179.47,247.68 180.29,247.68 181.12,247.66 181.94,247.74 182.76,247.67 183.58,247.74 184.41,247.7 185.23,247.66 186.05,247.72 186.87,247.7 187.7,247.64 188.52,247.74 189.34,247.67 190.16,247.64 190.99,247.73 191.81,247.73 192.63,247.69 193.45,247.66 194.28,247.7 195.1,247.71 195.92,247.72 196.74,247.7 197.57,247.71 198.39,247.73 199.21,247.66 200.03,247.66 200.86,247.7 201.68,247.73 202.5,247.74 203.32,247.74 204.15,247.69 204.97,247.73 205.79,247.65 206.61,247.69 207.44,247.65 208.26,247.74 209.08,247.76 209.9,247.72 210.73,247.7 211.61,247.89 212.49,248 213.38,248.21 214.26,248.28 215.14,248.47 216.03,248.62 216.91,248.8 217.78,248.56 218.65,248.2 219.53,247.92 220.4,247.63 221.27,247.4 222.91,276.8 224,297.1 225.45,304.5 227.82,309 230.18,310.6 231.27,310.84 232.36,311 235.45,309.2 238.73,304.8 242.18,302 243.02,301.85 243.86,301.8 244.7,301.6 245.55,301.54 246.39,301.34 247.23,301.3 248.07,301.18 248.91,301 249.75,301.01 250.59,300.96 251.43,300.95 252.27,300.92 253.11,300.89 253.95,300.77 254.79,300.81 255.63,300.77 256.47,300.68 257.31,300.63 258.15,300.68 258.99,300.6 259.83,300.57 260.67,300.58 261.51,300.5 262.35,300.44 263.19,300.46 264.03,300.4 264.87,300.34 265.71,300.36 266.55,300.3 267.38,300.29 268.22,300.15 269.05,300.16 269.89,300.09 270.73,300 271.56,299.9 272.4,299.9 273.24,299.79 274.07,299.73 274.91,299.7 275.73,299.69 276.56,299.56 277.39,299.49 278.21,299.53 279.04,299.49 279.86,299.35 280.69,299.31 281.51,299.27 282.34,299.24 283.16,299.1 283.99,299.12 284.82,299.02 285.64,299.05 286.47,298.93 287.29,298.94 288.12,298.83 288.94,298.8 289.77,298.67 290.59,298.64 291.42,298.59 292.25,298.55 293.07,298.47 293.9,298.45 294.72,298.35 295.55,298.36 296.37,298.35 297.2,298.28 298.02,298.2 298.85,298.19 299.68,298.11 300.5,298.04 301.33,297.97 302.15,297.87 302.98,297.91 303.8,297.86 304.63,297.79 305.45,297.7 306.29,297.72 307.12,297.73 307.96,297.74 308.8,297.73 309.63,297.7 310.47,297.6 311.3,297.71 312.14,297.66 312.97,297.64 313.81,297.63 314.64,297.6 315.48,297.57 316.31,297.63 317.15,297.63 317.98,297.56 318.82,297.65 319.65,297.64 320.49,297.63 321.32,297.59 322.16,297.56 322.99,297.57 323.83,297.55 324.66,297.61 325.5,297.6 326.34,297.59 327.17,297.54 328.01,297.53 328.84,297.55 329.68,297.49 330.51,297.47 331.35,297.56 332.18,297.5" fill="none" stroke="#0072BD" stroke-width="2.3" stroke-linejoin="round" stroke-linecap="butt"/></g>
<text transform="translate(16.8 380.25) scale(0.84 1)" font-size="6.6" text-anchor="end">0</text>
<text transform="translate(16.8 346.57) scale(0.84 1)" font-size="6.6" text-anchor="end">50</text>
<text transform="translate(16.8 312.89) scale(0.84 1)" font-size="6.6" text-anchor="end">100</text>
<text transform="translate(16.8 279.21) scale(0.84 1)" font-size="6.6" text-anchor="end">150</text>
<text transform="translate(16.8 245.53) scale(0.84 1)" font-size="6.6" text-anchor="end">200</text>
<text transform="translate(16.8 211.85) scale(0.84 1)" font-size="6.6" text-anchor="end">250</text>
<text transform="translate(19.4 387.7) scale(0.84 1)" font-size="6.6" text-anchor="middle">0</text>
<text transform="translate(49.87 387.7) scale(0.84 1)" font-size="6.6" text-anchor="middle">0.2</text>
<text transform="translate(80.33 387.7) scale(0.84 1)" font-size="6.6" text-anchor="middle">0.4</text>
<text transform="translate(110.8 387.7) scale(0.84 1)" font-size="6.6" text-anchor="middle">0.6</text>
<text transform="translate(141.27 387.7) scale(0.84 1)" font-size="6.6" text-anchor="middle">0.8</text>
<text transform="translate(171.73 387.7) scale(0.84 1)" font-size="6.6" text-anchor="middle">1</text>
<text transform="translate(202.2 387.7) scale(0.84 1)" font-size="6.6" text-anchor="middle">1.2</text>
<text transform="translate(5.1 293.7) rotate(-90)" font-size="7.2" text-anchor="middle" textLength="55.8" lengthAdjust="spacingAndGlyphs">Output Power(W)</text>
<text x="110.8" y="397.4" font-size="7.8" text-anchor="middle" textLength="27" lengthAdjust="spacingAndGlyphs">Time(sec)</text>
<text x="110.8" y="207.6" font-size="7.8" stroke="#262626" stroke-width="0.22" text-anchor="middle" textLength="35.2" lengthAdjust="spacingAndGlyphs">Without PSC</text>
<path d="M289.13 209.5V377.9M319.57 209.5V377.9M350 209.5V377.9M380.43 209.5V377.9M410.87 209.5V377.9M258.7 359.19H441.3M258.7 340.48H441.3M258.7 321.77H441.3M258.7 303.06H441.3M258.7 284.34H441.3M258.7 265.63H441.3M258.7 246.92H441.3M258.7 228.21H441.3" stroke="#262626" stroke-opacity="0.13" stroke-width="0.7" fill="none"/>
<path d="M289.13 377.9v-1.8M289.13 209.5v1.8M319.57 377.9v-1.8M319.57 209.5v1.8M350 377.9v-1.8M350 209.5v1.8M380.43 377.9v-1.8M380.43 209.5v1.8M410.87 377.9v-1.8M410.87 209.5v1.8M258.7 359.19h1.8M441.3 359.19h-1.8M258.7 340.48h1.8M441.3 340.48h-1.8M258.7 321.77h1.8M441.3 321.77h-1.8M258.7 303.06h1.8M441.3 303.06h-1.8M258.7 284.34h1.8M441.3 284.34h-1.8M258.7 265.63h1.8M441.3 265.63h-1.8M258.7 246.92h1.8M441.3 246.92h-1.8M258.7 228.21h1.8M441.3 228.21h-1.8" stroke="#262626" stroke-width="0.6" fill="none"/>
<rect x="258.7" y="209.5" width="182.6" height="168.4" stroke="#262626" stroke-width="0.6" fill="none"/>
<g transform="translate(258.7 0) scale(0.55 1)"><polyline points="0.18,377.6 2.73,302.7 4.36,286.7 6.55,275.6 9.09,250 10.73,234 12.55,228.5 15.09,225.3 15.93,224.71 16.76,224.42 17.6,223.78 18.44,223.73 19.27,223.1 20.11,222.74 20.95,222.73 21.78,222.76 22.62,222.24 23.45,222.1 24.28,222.41 25.1,222.31 25.93,222.23 26.75,222.31 27.58,222.32 28.4,222.22 29.22,222.63 30.05,222.31 30.87,222.69 31.7,222.64 32.52,222.18 33.35,222.35 34.17,222.52 34.99,222.76 35.82,222.6 36.73,222.61 37.64,223.07 38.55,223.12 39.45,223.57 40.36,223.86 41.27,223.8 42.18,223.83 43.09,223.37 44,223.58 44.91,223.26 45.82,223.38 46.73,223.03 47.64,223.17 48.55,222.8 49.36,223.24 50.18,223.29 51,223.45 51.82,223.59 52.64,223.61 53.45,223.5 54.27,224.14 55.09,224 55.97,223.65 56.85,223.04 57.73,222.96 58.61,222.62 59.48,222.15 60.36,222 61.22,222.38 62.07,221.98 62.92,222.57 63.78,222.46 64.63,222.35 65.48,222.56 66.34,222.72 67.19,222.63 68.04,223.13 68.9,223.17 69.75,223.47 70.6,223.49 71.45,223.4 72.28,223.57 73.11,223.7 73.93,223.66 74.76,223.49 75.59,223.42 76.41,223.41 77.24,223.59 78.07,223.66 78.89,223.6 79.72,223.6 80.55,223.4 81.38,223.21 82.22,223.53 83.05,223.42 83.89,223.81 84.73,223.9 85.56,223.98 86.4,224.24 87.24,223.95 88.07,224.35 88.91,224.3 89.79,224.22 90.67,223.86 91.55,224.19 92.42,223.5 93.3,223.61 94.18,223.52 95.06,223.42 95.94,223.52 96.82,223.13 97.7,223.2 98.58,222.71 99.45,222.7 100.31,222.52 101.17,222.14 102.03,222.27 102.89,221.96 103.75,222.01 104.61,221.43 105.47,221.47 106.33,221.59 107.19,220.85 108.05,221.07 108.91,220.8 110.55,219.6 111.09,228.4 113.27,244.7 116.36,248.9 117.22,248.99 118.07,249 118.93,248.87 119.78,248.82 120.64,249.08 121.49,248.65 122.35,248.88 123.2,248.84 124.05,248.86 124.91,248.7 125.77,248.69 126.64,248.41 127.5,248.87 128.36,248.57 129.23,248.87 130.09,248.99 130.95,248.87 131.82,248.64 132.68,248.91 133.55,248.63 134.41,248.59 135.27,248.74 136.14,248.79 137,248.81 137.86,248.73 138.73,248.7 139.57,248.54 140.41,248.63 141.26,248.27 142.1,248.33 142.94,247.86 143.79,247.82 144.63,248.16 145.47,247.66 146.31,247.67 147.16,247.34 148,247.5 148.85,247.84 149.7,247.75 150.55,247.76 151.39,248.08 152.24,248.65 153.09,248.72 153.94,248.45 154.79,249.19 155.64,249.1 156.48,248.58 157.33,248.56 158.18,248.32 159.03,248.2 159.88,247.55 160.73,247.69 161.58,247.1 162.42,247.11 163.27,246.7 164.1,246.88 164.93,246.6 165.75,246.17 166.58,246.49 167.4,246.27 168.23,246.37 169.06,246.33 169.88,245.85 170.71,246.05 171.54,246.01 172.36,246.11 173.19,245.84 174.02,245.76 174.84,245.78 175.67,245.34 176.5,245.68 177.32,245.44 178.15,245.39 178.98,245.02 179.8,245.17 180.63,245.02 181.45,245 182.27,244.81 183.09,245.24 183.91,245.18 184.73,244.94 185.55,244.7 186.36,245.23 187.18,244.7 188,244.92 188.82,244.95 189.64,245.11 190.45,244.98 191.27,244.94 192.09,244.88 192.91,245.15 193.73,245.04 194.55,244.75 195.36,245.01 196.18,245.09 197,244.8 197.82,244.55 198.64,244.53 199.45,245.06 200.27,244.59 201.09,244.94 201.91,244.57 202.73,244.57 203.55,244.53 204.36,244.91 205.18,244.46 206,244.7 206.83,244.79 207.65,245.1 208.48,245.04 209.31,244.84 210.13,244.96 210.96,245.55 211.79,245.34 212.61,245.32 213.44,245.7 214.26,245.96 215.09,245.9 215.97,245.65 216.86,245.42 217.74,245.33 218.62,245.37 219.51,245.43 220.39,244.88 221.27,245 222.73,263.6 224.18,297.1 226.36,320.4 229.09,313.9 231.45,310.8 232.55,313.5 235.82,301.6 240.36,297.9 241.25,298.14 242.15,298.17 243.04,298.17 243.93,298.15 244.82,298.02 245.71,298.38 246.6,298.41 247.49,298.65 248.38,298.36 249.27,298.7 250.16,298.59 251.05,298.59 251.95,298.96 252.84,298.8 253.73,299.17 254.62,299.2 255.51,299.23 256.4,299.23 257.29,299.76 258.18,299.6 259.07,299.59 259.96,299.36 260.85,299.65 261.75,299.76 262.64,299.59 263.53,299.83 264.42,299.8 265.31,299.71 266.2,299.32 267.09,299.6 267.92,299.47 268.74,299.46 269.57,299.18 270.4,299.31 271.22,299.34 272.05,299.32 272.88,299.25 273.7,299.17 274.53,298.83 275.36,298.94 276.18,298.8 277.01,298.81 277.83,298.98 278.66,298.61 279.48,298.65 280.31,298.98 281.14,299 281.96,298.71 282.79,299.05 283.61,299.06 284.44,299 285.26,298.9 286.09,298.66 286.91,298.78 287.74,299.11 288.57,299.22 289.39,298.77 290.22,298.71 291.04,298.9 291.87,299.27 292.69,298.85 293.52,299.29 294.34,299.21 295.17,299.25 296,299.35 296.82,299.18 297.65,298.9 298.47,299.05 299.3,299.04 300.12,299.21 300.95,299.04 301.77,299.27 302.6,298.86 303.43,298.99 304.25,299 305.08,298.98 305.9,299.34 306.73,299.2 307.57,299.5 308.41,299.1 309.25,299.4 310.1,299.18 310.94,299.4 311.78,299.41 312.62,299.81 313.47,299.96 314.31,300.04 315.15,299.76 315.99,299.92 316.84,299.88 317.68,300.21 318.52,300.02 319.36,300.41 320.21,300.3 321.05,300.42 321.89,300.68 322.73,300.78 323.58,300.46 324.42,300.81 325.26,300.6 326.1,300.52 326.95,301.09 327.79,300.76 328.63,300.89 329.47,301.22 330.32,301.37 331.16,301.16 332,301.3" fill="none" stroke="#D95319" stroke-width="2.4" stroke-linejoin="round" stroke-linecap="butt"/></g>
<polygon points="382.6,300 383.8,306 385.8,306.5 387.2,303 386.2,312.5 383.6,319.5" fill="#D95319" stroke="#D95319" stroke-width="0.5" stroke-linejoin="round"/>
<text transform="translate(256.1 380.25) scale(0.84 1)" font-size="6.6" text-anchor="end">0</text>
<text transform="translate(256.1 361.54) scale(0.84 1)" font-size="6.6" text-anchor="end">20</text>
<text transform="translate(256.1 342.83) scale(0.84 1)" font-size="6.6" text-anchor="end">40</text>
<text transform="translate(256.1 324.12) scale(0.84 1)" font-size="6.6" text-anchor="end">60</text>
<text transform="translate(256.1 305.41) scale(0.84 1)" font-size="6.6" text-anchor="end">80</text>
<text transform="translate(256.1 286.69) scale(0.84 1)" font-size="6.6" text-anchor="end">100</text>
<text transform="translate(256.1 267.98) scale(0.84 1)" font-size="6.6" text-anchor="end">120</text>
<text transform="translate(256.1 249.27) scale(0.84 1)" font-size="6.6" text-anchor="end">140</text>
<text transform="translate(256.1 230.56) scale(0.84 1)" font-size="6.6" text-anchor="end">160</text>
<text transform="translate(256.1 211.85) scale(0.84 1)" font-size="6.6" text-anchor="end">180</text>
<text transform="translate(258.7 387.7) scale(0.84 1)" font-size="6.6" text-anchor="middle">0</text>
<text transform="translate(289.13 387.7) scale(0.84 1)" font-size="6.6" text-anchor="middle">0.2</text>
<text transform="translate(319.57 387.7) scale(0.84 1)" font-size="6.6" text-anchor="middle">0.4</text>
<text transform="translate(350 387.7) scale(0.84 1)" font-size="6.6" text-anchor="middle">0.6</text>
<text transform="translate(380.43 387.7) scale(0.84 1)" font-size="6.6" text-anchor="middle">0.8</text>
<text transform="translate(410.87 387.7) scale(0.84 1)" font-size="6.6" text-anchor="middle">1</text>
<text transform="translate(441.3 387.7) scale(0.84 1)" font-size="6.6" text-anchor="middle">1.2</text>
<text transform="translate(244.4 293.7) rotate(-90)" font-size="7.2" text-anchor="middle" textLength="55.6" lengthAdjust="spacingAndGlyphs">Output Power(W)</text>
<text x="350" y="397.4" font-size="7.8" text-anchor="middle" textLength="27" lengthAdjust="spacingAndGlyphs">Time(sec)</text>
<text x="350" y="206.1" font-size="7.8" stroke="#262626" stroke-width="0.22" text-anchor="middle" textLength="25.6" lengthAdjust="spacingAndGlyphs">Pattern A</text>
<path d="M528.38 209.5V377.9M558.77 209.5V377.9M589.15 209.5V377.9M619.53 209.5V377.9M649.92 209.5V377.9M498 353.84H680.3M498 329.79H680.3M498 305.73H680.3M498 281.67H680.3M498 257.61H680.3M498 233.56H680.3" stroke="#262626" stroke-opacity="0.13" stroke-width="0.7" fill="none"/>
<path d="M528.38 377.9v-1.8M528.38 209.5v1.8M558.77 377.9v-1.8M558.77 209.5v1.8M589.15 377.9v-1.8M589.15 209.5v1.8M619.53 377.9v-1.8M619.53 209.5v1.8M649.92 377.9v-1.8M649.92 209.5v1.8M498 353.84h1.8M680.3 353.84h-1.8M498 329.79h1.8M680.3 329.79h-1.8M498 305.73h1.8M680.3 305.73h-1.8M498 281.67h1.8M680.3 281.67h-1.8M498 257.61h1.8M680.3 257.61h-1.8M498 233.56h1.8M680.3 233.56h-1.8" stroke="#262626" stroke-width="0.6" fill="none"/>
<rect x="498" y="209.5" width="182.3" height="168.4" stroke="#262626" stroke-width="0.6" fill="none"/>
<g transform="translate(498 0) scale(0.55 1)"><polyline points="0.55,377.6 7.45,250 8.18,240 9.82,226.5 11.27,224.5 12.23,224.57 13.18,224.68 14.14,224.91 15.09,224.8 15.92,224.4 16.75,224.11 17.58,224.05 18.4,223.64 19.23,223.27 20.06,223.01 20.89,222.68 21.72,222.29 22.55,222.2 23.39,222.34 24.24,222.56 25.09,222.49 25.94,222.52 26.79,222.4 27.64,222.52 28.48,222.41 29.33,222.82 30.18,222.62 31.03,222.68 31.88,223.15 32.73,222.82 33.58,223.27 34.42,223.11 35.27,223.1 36.1,223.51 36.93,223.69 37.76,223.67 38.59,224.25 39.41,224.23 40.24,224.58 41.07,224.67 41.9,224.88 42.73,225.4 43.61,225.14 44.48,224.74 45.36,224.78 46.24,224.88 47.12,224.78 48,224.3 48.82,224.43 49.64,224.41 50.45,224.73 51.27,224.74 52.09,225.01 52.91,225.42 53.73,225.6 54.55,225.7 55.42,225.19 56.3,225.23 57.18,224.95 58.06,224.71 58.94,224.31 59.82,224.3 60.67,224.32 61.52,224.23 62.38,224.67 63.23,224.73 64.08,224.8 64.94,224.75 65.79,225.17 66.64,224.9 67.5,224.88 68.35,225.07 69.2,225.48 70.06,225.11 70.91,225.4 71.78,225.52 72.65,225.58 73.53,225.49 74.4,225.22 75.27,225.2 76.1,225.27 76.93,225.62 77.76,225.63 78.59,225.78 79.41,225.51 80.24,225.86 81.07,226.04 81.9,225.84 82.73,225.92 83.56,226.4 84.38,226.34 85.21,226.35 86.04,226.49 86.87,226.45 87.7,226.55 88.53,226.56 89.35,226.84 90.18,227 91.06,226.68 91.94,227.02 92.82,226.95 93.7,226.62 94.58,226.21 95.45,226.41 96.33,226.03 97.21,226.06 98.09,225.8 98.97,225.92 99.85,225.55 100.73,225.7 101.58,225.42 102.44,225.24 103.29,225.23 104.15,225.36 105,225 105.85,224.97 106.71,224.79 107.56,224.52 108.42,224.09 109.27,224.2 110.91,222.5 111.27,234.2 113.45,251.7 116.73,255.1 117.59,254.94 118.45,255.1 119.31,255.44 120.17,255.44 121.02,255.9 121.88,255.57 122.74,255.64 123.6,256.06 124.46,256.15 125.32,255.92 126.18,256.3 127.13,256.39 128.07,256.63 129.02,257.03 129.96,257.19 130.91,257.2 131.76,257.47 132.61,257.31 133.45,257.6 134.3,257.36 135.15,257.3 136,257.25 136.85,257.71 137.7,257.65 138.55,257.67 139.39,257.93 140.24,257.77 141.09,257.62 141.94,257.89 142.79,258.08 143.64,257.67 144.48,258.18 145.33,257.91 146.18,258 147.01,258.02 147.83,258.51 148.66,258.93 149.49,259.01 150.31,259.13 151.14,259.69 151.97,259.54 152.79,260.14 153.62,260.21 154.45,260.61 155.27,260.8 156.12,260.7 156.96,260.47 157.8,260.32 158.64,260.59 159.49,260.27 160.33,260.07 161.17,260.16 162.02,260.16 162.86,259.65 163.7,259.77 164.55,259.7 165.36,259.46 166.18,259.8 167,259.33 167.82,259.78 168.64,259.58 169.45,259.53 170.27,259.51 171.09,259.32 171.91,259.39 172.73,259.19 173.55,259.28 174.36,259.39 175.18,259.37 176,259.16 176.82,259.31 177.64,259.38 178.45,259.34 179.27,258.85 180.09,259.12 180.91,258.89 181.73,259.25 182.55,259.07 183.36,258.96 184.18,259.03 185,258.94 185.82,258.9 186.64,258.77 187.47,259.23 188.29,258.76 189.12,258.79 189.94,258.99 190.77,258.94 191.59,259.12 192.42,259.31 193.24,259.21 194.07,259.6 194.9,259.26 195.72,259.67 196.55,259.74 197.37,259.52 198.2,259.72 199.02,259.32 199.85,259.88 200.67,259.63 201.5,259.61 202.32,260 203.15,259.73 203.97,259.58 204.8,259.59 205.62,260.09 206.45,259.77 207.27,260 208.1,260.26 208.93,260.12 209.75,260.73 210.58,261.01 211.4,260.83 212.23,261.27 213.06,261.51 213.88,261.29 214.71,261.62 215.54,262.12 216.36,262 217.27,262.05 218.18,261.6 219.09,261.37 220,260.83 220.91,260.9 222.55,282 224.91,307 227.09,305.4 227.94,305.57 228.8,305.62 229.65,305.36 230.5,305.14 231.35,305.05 232.2,305.33 233.06,305.34 233.91,305.26 234.76,305.38 235.61,304.87 236.47,304.83 237.32,304.86 238.17,304.96 239.02,304.78 239.87,304.87 240.73,305 241.55,304.85 242.38,305.24 243.2,305.1 244.03,304.93 244.85,305.14 245.68,304.95 246.5,305.48 247.33,304.97 248.15,305.09 248.98,305.31 249.8,305.53 250.63,305.42 251.45,305.13 252.28,305.44 253.1,305.55 253.93,305.69 254.76,305.54 255.58,305.33 256.41,305.71 257.23,305.66 258.06,305.8 258.88,305.41 259.71,305.82 260.53,305.63 261.36,305.51 262.18,305.7 263.03,305.51 263.88,305.38 264.73,305.82 265.58,305.33 266.42,305.59 267.27,305.32 268.12,305.28 268.97,305.3 269.82,305.56 270.67,305.05 271.52,305.21 272.36,305.13 273.21,305.19 274.06,305.23 274.91,305.34 275.76,305.16 276.61,305.25 277.45,305 278.29,305.27 279.13,305.27 279.97,304.84 280.82,304.9 281.66,305.22 282.5,305.07 283.34,305.21 284.18,305.35 285.02,305.39 285.86,305.57 286.7,305.62 287.54,305.33 288.38,305.58 289.22,305.56 290.06,305.59 290.9,305.8 291.74,305.83 292.58,305.87 293.42,305.72 294.26,305.58 295.1,305.92 295.94,305.76 296.78,305.84 297.62,305.75 298.46,305.78 299.3,306.04 300.14,306.39 300.98,306.23 301.82,306.2 302.64,306.07 303.45,306.52 304.27,306.08 305.09,306.39 305.91,306.05 306.73,306.61 307.55,306.6 308.36,306.58 309.18,306.33 310,306.39 310.82,306.44 311.64,306.72 312.45,306.54 313.27,306.36 314.09,306.78 314.91,306.51 315.73,306.72 316.55,306.87 317.36,306.79 318.18,306.42 319,306.86 319.82,306.66 320.64,307.01 321.45,306.66 322.27,306.56 323.09,306.55 323.91,307.1 324.73,306.78 325.55,306.55 326.36,306.87 327.18,307.16 328,306.74 328.82,307.19 329.64,307.25 330.45,306.8 331.27,307" fill="none" stroke="#77AC30" stroke-width="2.6" stroke-linejoin="round" stroke-linecap="butt"/></g>
<text transform="translate(495.9 380.65) scale(0.9 1)" font-size="6.6" text-anchor="end">0</text>
<text transform="translate(495.9 356.59) scale(0.9 1)" font-size="6.6" text-anchor="end">20</text>
<text transform="translate(495.9 332.54) scale(0.9 1)" font-size="6.6" text-anchor="end">40</text>
<text transform="translate(495.9 308.48) scale(0.9 1)" font-size="6.6" text-anchor="end">60</text>
<text transform="translate(495.9 284.42) scale(0.9 1)" font-size="6.6" text-anchor="end">80</text>
<text transform="translate(495.9 260.36) scale(0.9 1)" font-size="6.6" text-anchor="end">100</text>
<text transform="translate(495.9 236.31) scale(0.9 1)" font-size="6.6" text-anchor="end">120</text>
<text transform="translate(495.9 212.25) scale(0.9 1)" font-size="6.6" text-anchor="end">140</text>
<text transform="translate(498 387.7) scale(0.84 1)" font-size="6.6" text-anchor="middle">0</text>
<text transform="translate(528.38 387.7) scale(0.84 1)" font-size="6.6" text-anchor="middle">0.2</text>
<text transform="translate(558.77 387.7) scale(0.84 1)" font-size="6.6" text-anchor="middle">0.4</text>
<text transform="translate(589.15 387.7) scale(0.84 1)" font-size="6.6" text-anchor="middle">0.6</text>
<text transform="translate(619.53 387.7) scale(0.84 1)" font-size="6.6" text-anchor="middle">0.8</text>
<text transform="translate(649.92 387.7) scale(0.84 1)" font-size="6.6" text-anchor="middle">1</text>
<text transform="translate(680.3 387.7) scale(0.84 1)" font-size="6.6" text-anchor="middle">1.2</text>
<text transform="translate(483.1 293.7) rotate(-90)" font-size="7.2" text-anchor="middle" textLength="65.8" lengthAdjust="spacingAndGlyphs">Output Power (Watt)</text>
<text x="589.15" y="397.4" font-size="7.8" text-anchor="middle" textLength="28.9" lengthAdjust="spacingAndGlyphs">Time (sec)</text>
<text x="589.15" y="207.5" font-size="7.8" stroke="#262626" stroke-width="0.22" text-anchor="middle" textLength="25.6" lengthAdjust="spacingAndGlyphs">Pattern B</text>
<path d="M49.87 417.5V585.5M80.33 417.5V585.5M110.8 417.5V585.5M141.27 417.5V585.5M171.73 417.5V585.5M19.4 564.5H202.2M19.4 543.5H202.2M19.4 522.5H202.2M19.4 501.5H202.2M19.4 480.5H202.2M19.4 459.5H202.2M19.4 438.5H202.2" stroke="#262626" stroke-opacity="0.13" stroke-width="0.7" fill="none"/>
<path d="M49.87 585.5v-1.8M49.87 417.5v1.8M80.33 585.5v-1.8M80.33 417.5v1.8M110.8 585.5v-1.8M110.8 417.5v1.8M141.27 585.5v-1.8M141.27 417.5v1.8M171.73 585.5v-1.8M171.73 417.5v1.8M19.4 564.5h1.8M202.2 564.5h-1.8M19.4 543.5h1.8M202.2 543.5h-1.8M19.4 522.5h1.8M202.2 522.5h-1.8M19.4 501.5h1.8M202.2 501.5h-1.8M19.4 480.5h1.8M202.2 480.5h-1.8M19.4 459.5h1.8M202.2 459.5h-1.8M19.4 438.5h1.8M202.2 438.5h-1.8" stroke="#262626" stroke-width="0.6" fill="none"/>
<rect x="19.4" y="417.5" width="182.8" height="168" stroke="#262626" stroke-width="0.6" fill="none"/>
<g transform="translate(19.4 0) scale(0.55 1)"><polyline points="0.36,585.2 4,480 5.09,455 5.82,448 7.09,443.5 9.09,441 10.18,440.58 11.27,440.2 12.27,440.06 13.27,439.84 14.27,439.81 15.27,439.6 16.18,439.51 17.09,439.39 18,439.17 18.91,439.03 19.82,438.88 20.73,438.8 21.56,438.76 22.39,438.74 23.22,438.82 24.05,438.78 24.88,438.84 25.71,438.83 26.54,438.78 27.37,438.76 28.2,438.78 29.02,438.74 29.85,438.82 30.68,438.76 31.51,438.76 32.34,438.85 33.17,438.79 34,438.85 34.83,438.86 35.66,438.82 36.49,438.77 37.32,438.76 38.15,438.77 38.98,438.83 39.81,438.8 40.64,438.78 41.47,438.74 42.3,438.78 43.13,438.79 43.96,438.75 44.79,438.77 45.62,438.78 46.45,438.79 47.28,438.8 48.11,438.81 48.94,438.84 49.77,438.78 50.6,438.75 51.43,438.78 52.26,438.77 53.09,438.81 53.92,438.8 54.75,438.78 55.58,438.75 56.41,438.83 57.24,438.81 58.07,438.81 58.9,438.82 59.73,438.84 60.56,438.74 61.39,438.76 62.21,438.8 63.04,438.82 63.87,438.8 64.7,438.8 65.53,438.78 66.36,438.8 67.2,438.93 68.04,439.16 68.87,439.34 69.71,439.44 70.55,439.6 71.37,439.57 72.2,439.51 73.03,439.55 73.86,439.48 74.69,439.5 75.52,439.44 76.34,439.44 77.17,439.47 78,439.4 79.03,439.84 80.06,440.34 81.09,440.8 82,440.48 82.91,440.2 83.82,439.94 84.73,439.6 85.64,439.36 86.55,439 87.58,439.52 88.61,440.06 89.64,440.6 90.48,440.62 91.32,440.6 92.16,440.62 93,440.57 93.84,440.54 94.68,440.59 95.52,440.55 96.36,440.57 97.2,440.61 98.05,440.62 98.89,440.65 99.73,440.62 100.57,440.61 101.41,440.58 102.25,440.6 103.09,440.57 103.93,440.55 104.77,440.6 105.61,440.62 106.45,440.58 107.3,440.63 108.14,440.6 108.98,440.58 109.82,440.6 111.64,446.5 113.45,452 115.64,454.8 116.55,455.04 117.45,455.14 118.36,455.4 119.22,455.37 120.08,455.38 120.94,455.42 121.8,455.37 122.66,455.46 123.52,455.35 124.38,455.39 125.24,455.4 126.1,455.43 126.96,455.37 127.82,455.4 128.67,455.33 129.52,455.36 130.36,455.33 131.21,455.28 132.06,455.28 132.91,455.19 133.76,455.16 134.61,455.13 135.45,455.06 136.3,455.11 137.15,454.98 138,454.95 138.85,455.02 139.7,454.93 140.55,454.9 141.42,454.91 142.29,455.05 143.16,455.01 144.03,455.09 144.9,455.09 145.77,455.16 146.64,455.25 147.51,455.32 148.38,455.31 149.25,455.43 150.12,455.47 150.99,455.52 151.86,455.61 152.73,455.6 153.61,455.5 154.49,455.34 155.38,455.25 156.26,455.24 157.14,455.05 158.03,454.97 158.91,454.9 159.74,454.92 160.57,454.93 161.4,454.94 162.23,454.92 163.06,454.89 163.89,454.97 164.72,454.86 165.55,454.9 166.37,454.99 167.2,454.89 168.03,454.98 168.86,454.95 169.69,454.96 170.52,454.96 171.35,454.94 172.18,454.99 173.01,454.9 173.84,454.93 174.67,454.99 175.5,454.99 176.33,454.98 177.16,454.99 177.99,454.95 178.82,454.99 179.65,454.99 180.48,455.02 181.31,454.95 182.14,454.96 182.97,454.97 183.8,454.96 184.62,455.02 185.45,455 186.28,454.95 187.11,455.05 187.94,455.01 188.77,455.05 189.6,455.04 190.43,455.01 191.26,455 192.09,455.03 192.92,455.08 193.75,455.07 194.58,455.09 195.41,455.05 196.24,455.05 197.07,455.02 197.9,455.05 198.73,455.06 199.56,455.08 200.39,455.1 201.22,455.11 202.05,455.03 202.87,455.08 203.7,455.02 204.53,455.05 205.36,455.09 206.19,455.02 207.02,455.12 207.85,455.09 208.68,455.06 209.51,455.08 210.34,455.12 211.17,455.05 212,455.1 212.98,455.23 213.96,455.28 214.95,455.34 215.93,455.38 216.91,455.5 217.78,455.38 218.65,455.19 219.53,455.03 220.4,454.98 221.27,454.8 222.36,465.3 223.64,481.5 224.91,486.2 227.27,489.6 229.45,491 230.55,491.18 231.64,491.4 232.55,491.13 233.45,490.8 234.36,490.51 235.27,490.2 239.09,487.2 240.12,486.75 241.15,486.37 242.18,485.9 243.02,485.85 243.86,485.71 244.7,485.64 245.55,485.52 246.39,485.51 247.23,485.37 248.07,485.3 248.91,485.2 249.76,485.17 250.62,485.08 251.47,485.07 252.33,485.09 253.18,485.04 254.04,484.96 254.89,484.91 255.75,484.96 256.6,484.92 257.45,484.9 258.31,484.78 259.16,484.79 260.02,484.74 260.87,484.7 261.73,484.66 262.58,484.66 263.44,484.61 264.29,484.52 265.15,484.48 266,484.5 266.89,484.4 267.78,484.42 268.67,484.36 269.56,484.28 270.45,484.18 271.35,484.14 272.24,484.1 273.13,483.98 274.02,484.02 274.91,483.9 275.75,483.92 276.58,483.78 277.42,483.77 278.25,483.74 279.09,483.78 279.93,483.75 280.76,483.73 281.6,483.63 282.44,483.61 283.27,483.54 284.11,483.49 284.95,483.53 285.78,483.48 286.62,483.49 287.45,483.46 288.29,483.38 289.13,483.29 289.96,483.32 290.8,483.33 291.64,483.25 292.47,483.23 293.31,483.19 294.15,483.15 294.98,483.11 295.82,483.06 296.65,483.05 297.49,483.06 298.33,483.02 299.16,482.9 300,482.89 300.84,482.84 301.67,482.81 302.51,482.77 303.35,482.82 304.18,482.73 305.02,482.75 305.85,482.74 306.69,482.62 307.53,482.6 308.36,482.6 309.18,482.55 310.01,482.56 310.83,482.66 311.65,482.65 312.47,482.66 313.29,482.56 314.11,482.59 314.93,482.61 315.76,482.55 316.58,482.62 317.4,482.64 318.22,482.65 319.04,482.64 319.86,482.58 320.68,482.64 321.5,482.56 322.33,482.6 323.15,482.55 323.97,482.55 324.79,482.55 325.61,482.58 326.43,482.63 327.25,482.61 328.08,482.56 328.9,482.57 329.72,482.58 330.54,482.55 331.36,482.56 332.18,482.6" fill="none" stroke="#0072BD" stroke-width="2.2" stroke-linejoin="round" stroke-linecap="butt"/></g>
<text transform="translate(16.8 587.85) scale(0.84 1)" font-size="6.6" text-anchor="end">0</text>
<text transform="translate(16.8 566.85) scale(0.84 1)" font-size="6.6" text-anchor="end">10</text>
<text transform="translate(16.8 545.85) scale(0.84 1)" font-size="6.6" text-anchor="end">20</text>
<text transform="translate(16.8 524.85) scale(0.84 1)" font-size="6.6" text-anchor="end">30</text>
<text transform="translate(16.8 503.85) scale(0.84 1)" font-size="6.6" text-anchor="end">40</text>
<text transform="translate(16.8 482.85) scale(0.84 1)" font-size="6.6" text-anchor="end">50</text>
<text transform="translate(16.8 461.85) scale(0.84 1)" font-size="6.6" text-anchor="end">60</text>
<text transform="translate(16.8 440.85) scale(0.84 1)" font-size="6.6" text-anchor="end">70</text>
<text transform="translate(16.8 419.85) scale(0.84 1)" font-size="6.6" text-anchor="end">80</text>
<text transform="translate(19.4 595.3) scale(0.84 1)" font-size="6.6" text-anchor="middle">0</text>
<text transform="translate(49.87 595.3) scale(0.84 1)" font-size="6.6" text-anchor="middle">0.2</text>
<text transform="translate(80.33 595.3) scale(0.84 1)" font-size="6.6" text-anchor="middle">0.4</text>
<text transform="translate(110.8 595.3) scale(0.84 1)" font-size="6.6" text-anchor="middle">0.6</text>
<text transform="translate(141.27 595.3) scale(0.84 1)" font-size="6.6" text-anchor="middle">0.8</text>
<text transform="translate(171.73 595.3) scale(0.84 1)" font-size="6.6" text-anchor="middle">1</text>
<text transform="translate(202.2 595.3) scale(0.84 1)" font-size="6.6" text-anchor="middle">1.2</text>
<text transform="translate(8 501.5) rotate(-90)" font-size="7.2" text-anchor="middle" textLength="57.3" lengthAdjust="spacingAndGlyphs">Output Voltage(V)</text>
<text x="110.8" y="604.9" font-size="7.8" text-anchor="middle" textLength="27" lengthAdjust="spacingAndGlyphs">Time(sec)</text>
<path d="M289.13 417.5V585.5M319.57 417.5V585.5M350 417.5V585.5M380.43 417.5V585.5M410.87 417.5V585.5M258.7 557.5H441.3M258.7 529.5H441.3M258.7 501.5H441.3M258.7 473.5H441.3M258.7 445.5H441.3" stroke="#262626" stroke-opacity="0.13" stroke-width="0.7" fill="none"/>
<path d="M289.13 585.5v-1.8M289.13 417.5v1.8M319.57 585.5v-1.8M319.57 417.5v1.8M350 585.5v-1.8M350 417.5v1.8M380.43 585.5v-1.8M380.43 417.5v1.8M410.87 585.5v-1.8M410.87 417.5v1.8M258.7 557.5h1.8M441.3 557.5h-1.8M258.7 529.5h1.8M441.3 529.5h-1.8M258.7 501.5h1.8M441.3 501.5h-1.8M258.7 473.5h1.8M441.3 473.5h-1.8M258.7 445.5h1.8M441.3 445.5h-1.8" stroke="#262626" stroke-width="0.6" fill="none"/>
<rect x="258.7" y="417.5" width="182.6" height="168" stroke="#262626" stroke-width="0.6" fill="none"/>
<g transform="translate(258.7 0) scale(0.55 1)"><polyline points="0.55,585.2 1.45,529.6 2.36,501.4 3.45,474.9 6,452.4 8.55,438 10.55,430 12.91,426.5 13.91,426.08 14.91,425.62 15.91,425.26 16.91,424.8 17.79,424.6 18.68,424.74 19.56,424.21 20.44,424.26 21.32,424.31 22.21,424.09 23.09,423.9 23.94,424.16 24.79,423.8 25.64,423.85 26.48,423.84 27.33,423.75 28.18,423.73 29.03,424 29.88,423.89 30.73,424.07 31.58,424.31 32.42,424.34 33.27,424.23 34.12,423.97 34.97,424.02 35.82,424.1 36.73,424.41 37.64,424.08 38.55,424.51 39.45,424.23 40.36,424.43 41.27,424.56 42.18,424.6 43.03,424.84 43.87,424.66 44.72,424.68 45.56,424.35 46.41,424.31 47.25,424.58 48.1,424.37 48.95,424.41 49.79,424 50.64,423.94 51.48,424.12 52.33,424 53.17,423.94 54.02,424.23 54.86,424.25 55.71,423.79 56.55,423.68 57.4,423.69 58.25,423.65 59.09,423.8 59.92,423.94 60.75,423.74 61.58,424.1 62.4,423.53 63.23,423.85 64.06,423.61 64.89,424.05 65.72,423.77 66.55,423.69 67.37,423.91 68.2,424.08 69.03,423.58 69.86,423.71 70.69,424.12 71.52,423.84 72.34,423.65 73.17,424.15 74,423.9 74.83,424.22 75.66,423.97 76.48,423.88 77.31,423.84 78.14,424.32 78.97,424.4 79.8,424.43 80.63,424.46 81.45,424.31 82.28,424.33 83.11,424.56 83.94,424.74 84.77,424.6 85.6,424.69 86.42,424.67 87.25,424.98 88.08,425.12 88.91,424.9 89.79,424.68 90.67,425.01 91.55,424.84 92.42,424.51 93.3,424.34 94.18,424.51 95.06,424.34 95.94,424.29 96.82,424.45 97.7,424.36 98.58,424.11 99.45,423.9 100.31,423.82 101.17,423.52 102.03,423.37 102.89,423.73 103.75,423.3 104.61,423.46 105.47,423.15 106.33,423 107.19,423.19 108.05,422.79 108.91,422.9 110,422.2 111.09,426.7 113.27,436 115.45,438.3 116.31,438.01 117.17,438.52 118.03,438.13 118.89,438.07 119.75,438.29 120.61,437.91 121.47,438.22 122.33,437.85 123.19,438.11 124.05,438.09 124.91,437.9 125.77,437.68 126.64,437.87 127.5,438.16 128.36,437.97 129.23,437.95 130.09,437.75 130.95,437.82 131.82,438.32 132.68,438.36 133.55,438.1 134.41,438.2 135.27,437.9 136.14,438.41 137,438.24 137.86,438.32 138.73,438.2 139.57,438.35 140.41,437.92 141.26,438.13 142.1,437.93 142.94,437.76 143.79,437.62 144.63,437.88 145.47,437.5 146.31,437.43 147.16,437.49 148,437.5 148.85,437.57 149.7,437.69 150.55,437.67 151.39,438.23 152.24,437.81 153.09,438.34 153.94,438.43 154.79,438.36 155.64,438.5 156.48,438.25 157.33,438.44 158.18,438.25 159.03,437.82 159.88,438.06 160.73,437.78 161.58,437.37 162.42,437.71 163.27,437.3 164.12,437.17 164.97,436.98 165.83,437.42 166.68,437.24 167.53,437.02 168.38,437.02 169.23,436.94 170.08,436.89 170.93,436.58 171.78,436.86 172.63,436.64 173.48,436.48 174.33,436.54 175.19,436.51 176.04,436.25 176.89,436.34 177.74,436.3 178.59,436.15 179.44,436.27 180.29,435.99 181.14,436.2 181.99,436.06 182.84,435.98 183.69,436.14 184.55,436 185.37,436.07 186.2,435.76 187.02,435.75 187.85,436.06 188.67,435.88 189.5,435.75 190.32,435.81 191.15,435.8 191.97,435.78 192.8,435.64 193.62,435.82 194.45,436.13 195.27,435.6 196.1,435.61 196.92,435.68 197.75,435.9 198.57,435.77 199.4,435.99 200.22,435.99 201.05,435.94 201.87,435.83 202.7,436.05 203.52,436.12 204.35,435.59 205.17,435.74 206,435.8 206.83,436.1 207.65,436.03 208.48,435.96 209.31,436.22 210.13,436.03 210.96,436.45 211.79,436.06 212.61,436.14 213.44,436.63 214.26,436.48 215.09,436.6 215.97,436.6 216.86,436.5 217.74,436.24 218.62,436 219.51,435.61 220.39,435.58 221.27,435.4 222.73,453.6 224.91,478.8 226.73,486.6 230.36,482.1 233.45,477.1 238,470.4 239.03,469.98 240.06,470.06 241.09,469.6 241.92,469.95 242.74,469.43 243.57,469.78 244.39,470.01 245.22,470.15 246.05,469.86 246.87,469.95 247.7,469.92 248.52,469.82 249.35,469.97 250.17,470.48 251,470.42 251.83,470.6 252.65,470.42 253.48,470.13 254.3,470.42 255.13,470.75 255.95,470.6 256.78,470.83 257.61,470.39 258.43,470.64 259.26,470.75 260.08,470.81 260.91,470.9 261.76,470.74 262.61,471.01 263.45,471.02 264.3,471.03 265.15,470.76 266,470.55 266.85,470.81 267.7,470.97 268.55,470.64 269.39,470.47 270.24,470.62 271.09,470.56 271.94,470.38 272.79,470.76 273.64,470.36 274.48,470.82 275.33,470.87 276.18,470.6 277.02,470.79 277.86,470.78 278.7,470.75 279.54,470.83 280.38,470.68 281.22,470.72 282.06,470.39 282.9,470.66 283.74,470.98 284.58,470.43 285.42,470.65 286.26,470.97 287.1,470.75 287.94,470.99 288.78,470.79 289.62,470.68 290.46,471.04 291.3,470.71 292.14,471.01 292.98,470.93 293.82,471.11 294.66,470.88 295.5,470.99 296.34,470.58 297.18,470.97 298.03,470.58 298.87,470.72 299.71,471.04 300.55,470.9 301.37,470.8 302.2,470.85 303.03,471.11 303.86,471.35 304.68,470.85 305.51,470.93 306.34,471.24 307.17,471.36 308,471.07 308.82,471.38 309.65,471.04 310.48,471.17 311.31,471.2 312.13,471.37 312.96,471.56 313.79,471.8 314.62,471.6 315.44,471.6 316.27,471.65 317.1,471.48 317.93,471.82 318.76,471.89 319.58,471.9 320.41,471.79 321.24,472.05 322.07,471.67 322.89,471.73 323.72,471.98 324.55,472 325.38,471.98 326.21,472.41 327.03,472.31 327.86,472.18 328.69,472.32 329.52,472.15 330.34,472.45 331.17,472.51 332,472.4" fill="none" stroke="#D95319" stroke-width="2.3" stroke-linejoin="round" stroke-linecap="butt"/></g>
<polygon points="382.6,476 384.2,480.5 386,479.5 385,484 383.6,486.4" fill="#D95319" stroke="#D95319" stroke-width="0.5" stroke-linejoin="round"/>
<text transform="translate(256.1 587.85) scale(0.84 1)" font-size="6.6" text-anchor="end">0</text>
<text transform="translate(256.1 559.85) scale(0.84 1)" font-size="6.6" text-anchor="end">10</text>
<text transform="translate(256.1 531.85) scale(0.84 1)" font-size="6.6" text-anchor="end">20</text>
<text transform="translate(256.1 503.85) scale(0.84 1)" font-size="6.6" text-anchor="end">30</text>
<text transform="translate(256.1 475.85) scale(0.84 1)" font-size="6.6" text-anchor="end">40</text>
<text transform="translate(256.1 447.85) scale(0.84 1)" font-size="6.6" text-anchor="end">50</text>
<text transform="translate(256.1 419.85) scale(0.84 1)" font-size="6.6" text-anchor="end">60</text>
<text transform="translate(258.7 595.3) scale(0.84 1)" font-size="6.6" text-anchor="middle">0</text>
<text transform="translate(289.13 595.3) scale(0.84 1)" font-size="6.6" text-anchor="middle">0.2</text>
<text transform="translate(319.57 595.3) scale(0.84 1)" font-size="6.6" text-anchor="middle">0.4</text>
<text transform="translate(350 595.3) scale(0.84 1)" font-size="6.6" text-anchor="middle">0.6</text>
<text transform="translate(380.43 595.3) scale(0.84 1)" font-size="6.6" text-anchor="middle">0.8</text>
<text transform="translate(410.87 595.3) scale(0.84 1)" font-size="6.6" text-anchor="middle">1</text>
<text transform="translate(441.3 595.3) scale(0.84 1)" font-size="6.6" text-anchor="middle">1.2</text>
<text transform="translate(247.9 501.5) rotate(-90)" font-size="7.2" text-anchor="middle" textLength="58.3" lengthAdjust="spacingAndGlyphs">Output Voltage(V)</text>
<text x="350" y="604.9" font-size="7.8" text-anchor="middle" textLength="27" lengthAdjust="spacingAndGlyphs">Time(sec)</text>
<path d="M528.38 417.5V585.5M558.77 417.5V585.5M589.15 417.5V585.5M619.53 417.5V585.5M649.92 417.5V585.5M498 557.5H680.3M498 529.5H680.3M498 501.5H680.3M498 473.5H680.3M498 445.5H680.3" stroke="#262626" stroke-opacity="0.13" stroke-width="0.7" fill="none"/>
<path d="M528.38 585.5v-1.8M528.38 417.5v1.8M558.77 585.5v-1.8M558.77 417.5v1.8M589.15 585.5v-1.8M589.15 417.5v1.8M619.53 585.5v-1.8M619.53 417.5v1.8M649.92 585.5v-1.8M649.92 417.5v1.8M498 557.5h1.8M680.3 557.5h-1.8M498 529.5h1.8M680.3 529.5h-1.8M498 501.5h1.8M680.3 501.5h-1.8M498 473.5h1.8M680.3 473.5h-1.8M498 445.5h1.8M680.3 445.5h-1.8" stroke="#262626" stroke-width="0.6" fill="none"/>
<rect x="498" y="417.5" width="182.3" height="168" stroke="#262626" stroke-width="0.6" fill="none"/>
<g transform="translate(498 0) scale(0.55 1)"><polyline points="0.55,585.2 1.09,529.6 5.09,465 7.27,450 9.45,444.2 10.45,443.6 11.45,443.5 12.28,443.24 13.1,443.49 13.93,443.11 14.76,443.52 15.58,443.4 16.41,443.28 17.23,443.05 18.06,443.2 18.88,442.79 19.71,442.95 20.53,442.75 21.36,442.76 22.18,442.7 23.01,443.01 23.84,442.6 24.67,442.95 25.49,442.99 26.32,442.62 27.15,443.2 27.98,442.9 28.81,442.99 29.64,442.88 30.46,443.07 31.29,443.34 32.12,443.01 32.95,443.27 33.78,443.34 34.61,443.42 35.43,443.35 36.26,443.23 37.09,443.3 37.93,443.23 38.78,443.28 39.62,443.3 40.47,443.63 41.31,443.62 42.15,443.27 43,443.33 43.84,443.22 44.68,443.77 45.53,443.28 46.37,443.5 47.21,443.4 48.06,443.43 48.9,443.9 49.75,443.62 50.59,443.76 51.43,443.91 52.28,443.75 53.12,443.95 53.96,443.94 54.81,443.87 55.65,443.87 56.49,444.08 57.34,443.98 58.18,443.9 59.04,443.82 59.89,444.16 60.75,444.12 61.6,444.21 62.45,444.05 63.31,443.93 64.16,443.88 65.02,444.05 65.87,443.8 66.73,444.14 67.58,444.13 68.44,444.25 69.29,443.86 70.15,444.09 71,444.08 71.85,444.12 72.71,444.02 73.56,443.79 74.42,444.35 75.27,444.1 76.1,444.39 76.93,444 77.76,444.5 78.59,444.36 79.41,444.05 80.24,444.48 81.07,444.33 81.9,444.42 82.73,444.31 83.56,444.8 84.38,444.74 85.21,444.54 86.04,444.79 86.87,444.75 87.7,445.14 88.53,444.73 89.35,445.06 90.18,445 91.01,445.11 91.84,445.1 92.67,444.67 93.5,444.96 94.33,444.48 95.16,444.4 95.99,444.61 96.82,444.72 97.65,444.36 98.48,444.15 99.31,444.04 100.14,444.16 100.97,444.37 101.8,444.16 102.63,444.01 103.46,443.97 104.29,443.72 105.12,443.67 105.95,443.62 106.78,443.84 107.61,443.72 108.44,443.3 109.27,443.5 110.91,442.8 111.27,447.7 113.45,455.9 116.73,458.7 117.59,458.79 118.45,459.08 119.31,458.61 120.17,458.71 121.02,459.25 121.88,459.04 122.74,459.32 123.6,459.34 124.46,459.17 125.32,459.54 126.18,459.3 127.13,459.26 128.07,459.38 129.02,459.44 129.96,459.85 130.91,459.8 131.76,459.6 132.61,459.84 133.45,460.08 134.3,460.09 135.15,459.88 136,459.83 136.85,460.27 137.7,460.32 138.55,460.23 139.39,460.25 140.24,459.99 141.09,460.17 141.94,460.17 142.79,460.35 143.64,460.25 144.48,460.49 145.33,460.44 146.18,460.5 147.01,460.9 147.83,460.59 148.66,460.58 149.49,460.76 150.31,460.91 151.14,461.32 151.97,461.36 152.79,461.49 153.62,461.71 154.45,461.8 155.27,461.8 156.12,461.53 156.96,461.43 157.8,461.75 158.64,461.57 159.49,461.28 160.33,461.38 161.17,461.28 162.02,460.82 162.86,460.95 163.7,461.05 164.55,460.8 165.38,460.99 166.21,460.9 167.04,460.68 167.87,461 168.71,460.8 169.54,461.06 170.37,461.03 171.2,460.99 172.03,460.56 172.87,461.01 173.7,460.59 174.53,460.55 175.36,460.74 176.19,460.82 177.02,460.57 177.86,460.99 178.69,460.44 179.52,460.89 180.35,460.82 181.18,460.85 182.02,460.65 182.85,460.91 183.68,460.55 184.51,460.65 185.34,460.84 186.18,460.86 187.01,460.37 187.84,460.69 188.67,460.86 189.5,460.51 190.34,460.4 191.17,460.66 192,460.6 192.83,460.82 193.65,460.47 194.48,460.83 195.31,460.48 196.13,461 196.96,460.5 197.79,460.54 198.61,460.98 199.44,460.74 200.26,460.57 201.09,460.71 201.92,461.1 202.74,461.11 203.57,460.81 204.4,460.66 205.22,461.08 206.05,460.76 206.88,461.14 207.7,461.04 208.53,461.29 209.36,460.82 210.18,461.1 211.06,461.48 211.95,461.13 212.83,461.59 213.71,461.59 214.6,461.85 215.48,461.8 216.36,462.1 217.27,462.25 218.18,461.87 219.09,461.83 220,461.61 220.91,461.5 222.55,473.6 224.91,488.7 226,488.66 227.09,488.3 227.94,488.52 228.8,488.05 229.65,488.58 230.5,488.17 231.35,488.37 232.2,488.11 233.06,488.2 233.91,488.53 234.76,488.53 235.61,488.55 236.47,488.38 237.32,488.27 238.17,488.28 239.02,488.21 239.87,488.41 240.73,488.3 241.55,488.26 242.38,488.11 243.2,488.44 244.03,488.28 244.85,488.45 245.68,488.53 246.5,488.69 247.33,488.19 248.15,488.47 248.98,488.69 249.8,488.19 250.63,488.51 251.45,488.36 252.28,488.58 253.1,488.69 253.93,488.59 254.76,488.42 255.58,488.53 256.41,488.42 257.23,488.81 258.06,488.56 258.88,488.48 259.71,488.91 260.53,488.71 261.36,488.71 262.18,488.7 263.03,488.93 263.88,488.67 264.73,488.73 265.58,488.4 266.42,488.46 267.27,488.27 268.12,488.51 268.97,488.16 269.82,488.13 270.67,488.01 271.52,488.39 272.36,488.03 273.21,488.27 274.06,488.01 274.91,487.76 275.76,488.02 276.61,488.06 277.45,487.8 278.29,487.79 279.13,488.11 279.97,487.95 280.82,487.86 281.66,488.08 282.5,488.02 283.34,488.18 284.18,487.76 285.02,488.22 285.86,488.17 286.7,487.92 287.54,487.98 288.38,488.04 289.22,487.8 290.06,488.04 290.9,488.36 291.74,488.24 292.58,488.21 293.42,487.92 294.26,488.35 295.1,488.01 295.94,488.44 296.78,488.17 297.62,488.04 298.46,488.26 299.3,487.97 300.14,488.47 300.98,488.37 301.82,488.3 302.64,488.35 303.45,488.48 304.27,488.55 305.09,488.1 305.91,488.45 306.73,488.64 307.55,488.68 308.36,488.52 309.18,488.81 310,488.48 310.82,488.72 311.64,488.78 312.45,488.56 313.27,488.92 314.09,488.86 314.91,488.94 315.73,488.84 316.55,488.49 317.36,489.05 318.18,488.97 319,488.97 319.82,488.8 320.64,488.61 321.45,489.14 322.27,489.19 323.09,488.92 323.91,488.96 324.73,489.02 325.55,488.79 326.36,488.78 327.18,489.21 328,488.97 328.82,488.85 329.64,489.25 330.45,488.97 331.27,489.2" fill="none" stroke="#77AC30" stroke-width="1.9" stroke-linejoin="round" stroke-linecap="butt"/></g>
<text transform="translate(495.9 588.25) scale(0.9 1)" font-size="6.6" text-anchor="end">0</text>
<text transform="translate(495.9 560.25) scale(0.9 1)" font-size="6.6" text-anchor="end">10</text>
<text transform="translate(495.9 532.25) scale(0.9 1)" font-size="6.6" text-anchor="end">20</text>
<text transform="translate(495.9 504.25) scale(0.9 1)" font-size="6.6" text-anchor="end">30</text>
<text transform="translate(495.9 476.25) scale(0.9 1)" font-size="6.6" text-anchor="end">40</text>
<text transform="translate(495.9 448.25) scale(0.9 1)" font-size="6.6" text-anchor="end">50</text>
<text transform="translate(495.9 420.25) scale(0.9 1)" font-size="6.6" text-anchor="end">60</text>
<text transform="translate(498 595.3) scale(0.84 1)" font-size="6.6" text-anchor="middle">0</text>
<text transform="translate(528.38 595.3) scale(0.84 1)" font-size="6.6" text-anchor="middle">0.2</text>
<text transform="translate(558.77 595.3) scale(0.84 1)" font-size="6.6" text-anchor="middle">0.4</text>
<text transform="translate(589.15 595.3) scale(0.84 1)" font-size="6.6" text-anchor="middle">0.6</text>
<text transform="translate(619.53 595.3) scale(0.84 1)" font-size="6.6" text-anchor="middle">0.8</text>
<text transform="translate(649.92 595.3) scale(0.84 1)" font-size="6.6" text-anchor="middle">1</text>
<text transform="translate(680.3 595.3) scale(0.84 1)" font-size="6.6" text-anchor="middle">1.2</text>
<text transform="translate(486.4 501.5) rotate(-90)" font-size="7.2" text-anchor="middle" textLength="59.2" lengthAdjust="spacingAndGlyphs">Output Voltage (V)</text>
<text x="589.15" y="604.9" font-size="7.8" text-anchor="middle" textLength="28.9" lengthAdjust="spacingAndGlyphs">Time (sec)</text>
<path d="M49.87 625V793.4M80.33 625V793.4M110.8 625V793.4M141.27 625V793.4M171.73 625V793.4M19.4 772.35H202.2M19.4 751.3H202.2M19.4 730.25H202.2M19.4 709.2H202.2M19.4 688.15H202.2M19.4 667.1H202.2M19.4 646.05H202.2" stroke="#262626" stroke-opacity="0.13" stroke-width="0.7" fill="none"/>
<path d="M49.87 793.4v-1.8M49.87 625v1.8M80.33 793.4v-1.8M80.33 625v1.8M110.8 793.4v-1.8M110.8 625v1.8M141.27 793.4v-1.8M141.27 625v1.8M171.73 793.4v-1.8M171.73 625v1.8M19.4 772.35h1.8M202.2 772.35h-1.8M19.4 751.3h1.8M202.2 751.3h-1.8M19.4 730.25h1.8M202.2 730.25h-1.8M19.4 709.2h1.8M202.2 709.2h-1.8M19.4 688.15h1.8M202.2 688.15h-1.8M19.4 667.1h1.8M202.2 667.1h-1.8M19.4 646.05h1.8M202.2 646.05h-1.8" stroke="#262626" stroke-width="0.6" fill="none"/>
<rect x="19.4" y="625" width="182.8" height="168.4" stroke="#262626" stroke-width="0.6" fill="none"/>
<g transform="translate(19.4 0) scale(0.55 1)"><polyline points="0.36,793.2 4,700 5.09,668 6,657 7.45,650.5 9.45,648 10.55,647.76 11.64,647.5 12.55,647.39 13.45,647.41 14.36,647.33 15.27,647.2 16.18,647 17.09,646.82 18,646.57 18.91,646.37 19.82,646.17 20.73,646 21.56,646.02 22.39,645.97 23.22,646.06 24.05,645.95 24.88,645.96 25.71,645.95 26.54,646.03 27.37,645.98 28.2,646 29.02,645.98 29.85,646.02 30.68,645.99 31.51,645.96 32.34,645.99 33.17,645.98 34,645.95 34.83,646.04 35.66,646.02 36.49,646.02 37.32,646.05 38.15,645.99 38.98,645.99 39.81,645.99 40.64,645.99 41.47,646.02 42.3,645.94 43.13,646 43.96,646 44.79,645.98 45.62,645.94 46.45,646.02 47.28,645.94 48.11,646.01 48.94,645.96 49.77,645.94 50.6,645.96 51.43,645.95 52.26,645.96 53.09,646.02 53.92,646.03 54.75,645.98 55.58,646.02 56.41,646 57.24,646 58.07,646.05 58.9,645.98 59.73,646.04 60.56,646.02 61.39,646.02 62.21,645.94 63.04,645.95 63.87,645.94 64.7,645.98 65.53,646.05 66.36,646 67.2,646.23 68.04,646.4 68.87,646.49 69.71,646.74 70.55,646.9 71.37,646.93 72.2,646.94 73.03,646.94 73.86,646.86 74.69,646.86 75.52,646.94 76.34,646.93 77.17,646.95 78,646.9 79.03,647.36 80.06,647.88 81.09,648.3 82,647.97 82.91,647.79 83.82,647.5 84.73,647.15 85.64,646.83 86.55,646.6 87.58,647.07 88.61,647.56 89.64,648 90.48,647.98 91.32,647.95 92.16,647.97 93,648.04 93.84,647.95 94.68,648.05 95.52,647.97 96.36,647.96 97.2,647.95 98.05,648.06 98.89,648.05 99.73,647.98 100.57,647.95 101.41,648.02 102.25,648.05 103.09,647.94 103.93,648.02 104.77,648.04 105.61,648 106.45,648.01 107.3,648.04 108.14,647.97 108.98,647.97 109.82,648 111.64,654.5 113.45,659.3 115.64,662 116.55,662.29 117.45,662.54 118.36,662.8 119.22,662.82 120.08,662.82 120.94,662.91 121.8,662.85 122.66,662.91 123.52,662.96 124.38,662.92 125.24,662.89 126.1,662.93 126.96,662.93 127.82,663 128.67,662.88 129.52,662.81 130.36,662.76 131.21,662.69 132.06,662.63 132.91,662.58 133.76,662.51 134.61,662.44 135.45,662.32 136.3,662.29 137.15,662.2 138,662.08 138.85,662.05 139.7,661.95 140.55,661.9 141.42,662 142.29,662.09 143.16,662.1 144.03,662.21 144.9,662.29 145.77,662.35 146.64,662.39 147.51,662.47 148.38,662.67 149.25,662.71 150.12,662.76 150.99,662.86 151.86,662.89 152.73,663 153.61,662.93 154.49,662.85 155.38,662.73 156.26,662.6 157.14,662.56 158.03,662.45 158.91,662.3 159.74,662.25 160.57,662.3 161.4,662.31 162.23,662.29 163.06,662.34 163.89,662.29 164.72,662.36 165.55,662.38 166.37,662.29 167.2,662.37 168.03,662.32 168.86,662.37 169.69,662.38 170.52,662.42 171.35,662.41 172.18,662.36 173.01,662.41 173.84,662.34 174.67,662.41 175.5,662.38 176.33,662.37 177.16,662.37 177.99,662.37 178.82,662.45 179.65,662.37 180.48,662.39 181.31,662.39 182.14,662.39 182.97,662.46 183.8,662.45 184.62,662.47 185.45,662.5 186.28,662.45 187.11,662.4 187.94,662.43 188.77,662.47 189.6,662.5 190.43,662.53 191.26,662.48 192.09,662.45 192.92,662.5 193.75,662.55 194.58,662.48 195.41,662.56 196.24,662.56 197.07,662.52 197.9,662.52 198.73,662.48 199.56,662.48 200.39,662.48 201.22,662.55 202.05,662.57 202.87,662.61 203.7,662.57 204.53,662.62 205.36,662.55 206.19,662.52 207.02,662.52 207.85,662.55 208.68,662.58 209.51,662.64 210.34,662.57 211.17,662.56 212,662.6 212.98,662.73 213.96,662.79 214.95,662.91 215.93,662.96 216.91,663.1 217.78,662.98 218.65,662.83 219.53,662.65 220.4,662.51 221.27,662.3 222.36,672.3 223.64,689.8 224.91,693.9 227.27,697.3 229.45,698.7 230.55,698.88 231.64,699.1 232.55,698.72 233.45,698.43 234.36,698.17 235.27,697.8 239.09,694.9 240.12,694.33 241.15,693.73 242.18,693.2 243.02,693.07 243.86,692.98 244.7,692.93 245.55,692.9 246.39,692.81 247.23,692.71 248.07,692.62 248.91,692.5 249.76,692.43 250.62,692.47 251.47,692.38 252.33,692.38 253.18,692.29 254.04,692.37 254.89,692.25 255.75,692.27 256.6,692.25 257.45,692.22 258.31,692.19 259.16,692.12 260.02,692.15 260.87,692.13 261.73,692.06 262.58,692.08 263.44,692.03 264.29,691.91 265.15,691.95 266,691.9 266.89,691.82 267.78,691.86 268.67,691.79 269.56,691.82 270.45,691.7 271.35,691.77 272.24,691.64 273.13,691.61 274.02,691.57 274.91,691.6 275.75,691.52 276.58,691.58 277.42,691.52 278.25,691.49 279.09,691.36 279.93,691.38 280.76,691.36 281.6,691.31 282.44,691.21 283.27,691.26 284.11,691.19 284.95,691.14 285.78,691.05 286.62,691.03 287.45,691.03 288.29,690.96 289.13,690.92 289.96,690.93 290.8,690.83 291.64,690.84 292.47,690.71 293.31,690.72 294.15,690.71 294.98,690.58 295.82,690.62 296.65,690.53 297.49,690.54 298.33,690.49 299.16,690.4 300,690.45 300.84,690.33 301.67,690.28 302.51,690.27 303.35,690.19 304.18,690.15 305.02,690.19 305.85,690.07 306.69,690.08 307.53,690.09 308.36,690 309.18,689.99 310.01,690.04 310.83,690.04 311.65,689.96 312.47,689.95 313.29,690.03 314.11,690.04 314.93,690.04 315.76,690.03 316.58,690 317.4,690.05 318.22,690.03 319.04,690.03 319.86,690.05 320.68,689.95 321.5,690.03 322.33,690.01 323.15,689.94 323.97,689.97 324.79,690.03 325.61,690 326.43,690.01 327.25,689.97 328.08,690.01 328.9,690.05 329.72,690.06 330.54,690.01 331.36,690.03 332.18,690" fill="none" stroke="#0072BD" stroke-width="2.2" stroke-linejoin="round" stroke-linecap="butt"/></g>
<text transform="translate(16.8 795.75) scale(0.84 1)" font-size="6.6" text-anchor="end">0</text>
<text transform="translate(16.8 774.7) scale(0.84 1)" font-size="6.6" text-anchor="end">0.5</text>
<text transform="translate(16.8 753.65) scale(0.84 1)" font-size="6.6" text-anchor="end">1</text>
<text transform="translate(16.8 732.6) scale(0.84 1)" font-size="6.6" text-anchor="end">1.5</text>
<text transform="translate(16.8 711.55) scale(0.84 1)" font-size="6.6" text-anchor="end">2</text>
<text transform="translate(16.8 690.5) scale(0.84 1)" font-size="6.6" text-anchor="end">2.5</text>
<text transform="translate(16.8 669.45) scale(0.84 1)" font-size="6.6" text-anchor="end">3</text>
<text transform="translate(16.8 648.4) scale(0.84 1)" font-size="6.6" text-anchor="end">3.5</text>
<text transform="translate(16.8 627.35) scale(0.84 1)" font-size="6.6" text-anchor="end">4</text>
<text transform="translate(19.4 803.2) scale(0.84 1)" font-size="6.6" text-anchor="middle">0</text>
<text transform="translate(49.87 803.2) scale(0.84 1)" font-size="6.6" text-anchor="middle">0.2</text>
<text transform="translate(80.33 803.2) scale(0.84 1)" font-size="6.6" text-anchor="middle">0.4</text>
<text transform="translate(110.8 803.2) scale(0.84 1)" font-size="6.6" text-anchor="middle">0.6</text>
<text transform="translate(141.27 803.2) scale(0.84 1)" font-size="6.6" text-anchor="middle">0.8</text>
<text transform="translate(171.73 803.2) scale(0.84 1)" font-size="6.6" text-anchor="middle">1</text>
<text transform="translate(202.2 803.2) scale(0.84 1)" font-size="6.6" text-anchor="middle">1.2</text>
<text transform="translate(6.8 709.2) rotate(-90)" font-size="7.2" text-anchor="middle" textLength="57.8" lengthAdjust="spacingAndGlyphs">Output Current(A)</text>
<text x="110.8" y="812.6" font-size="7.8" text-anchor="middle" textLength="27" lengthAdjust="spacingAndGlyphs">Time(sec)</text>
<path d="M289.13 625V793.4M319.57 625V793.4M350 625V793.4M380.43 625V793.4M410.87 625V793.4M258.7 765.33H441.3M258.7 737.27H441.3M258.7 709.2H441.3M258.7 681.13H441.3M258.7 653.07H441.3" stroke="#262626" stroke-opacity="0.13" stroke-width="0.7" fill="none"/>
<path d="M289.13 793.4v-1.8M289.13 625v1.8M319.57 793.4v-1.8M319.57 625v1.8M350 793.4v-1.8M350 625v1.8M380.43 793.4v-1.8M380.43 625v1.8M410.87 793.4v-1.8M410.87 625v1.8M258.7 765.33h1.8M441.3 765.33h-1.8M258.7 737.27h1.8M441.3 737.27h-1.8M258.7 709.2h1.8M441.3 709.2h-1.8M258.7 681.13h1.8M441.3 681.13h-1.8M258.7 653.07h1.8M441.3 653.07h-1.8" stroke="#262626" stroke-width="0.6" fill="none"/>
<rect x="258.7" y="625" width="182.6" height="168.4" stroke="#262626" stroke-width="0.6" fill="none"/>
<g transform="translate(258.7 0) scale(0.55 1)"><polyline points="0.36,793.2 0.91,737.5 1.82,708.2 3.45,680.7 6.55,660 7.64,652 10,639 12.55,634.2 13.55,633.9 14.55,633.03 15.55,632.97 16.55,632.2 17.48,632.07 18.42,631.88 19.35,631.88 20.29,631.49 21.22,631.37 22.16,631.38 23.09,631.3 23.94,631.16 24.79,631.46 25.64,631.33 26.48,631.34 27.33,631.3 28.18,631.29 29.03,631.62 29.88,631.75 30.73,631.45 31.58,631.75 32.42,631.48 33.27,631.78 34.12,631.49 34.97,631.71 35.82,631.7 36.73,631.73 37.64,632.09 38.55,632.11 39.45,631.81 40.36,631.89 41.27,632.19 42.18,632.3 43.03,632.07 43.87,632.02 44.72,632.39 45.56,632.32 46.41,631.71 47.25,631.65 48.1,631.96 48.95,632.09 49.79,631.99 50.64,631.82 51.48,631.78 52.33,631.57 53.17,631.51 54.02,631.67 54.86,631.16 55.71,631.45 56.55,631.41 57.4,631.01 58.25,631.32 59.09,631.1 59.92,630.92 60.75,631.41 61.58,631.31 62.4,631.14 63.23,631.23 64.06,631.48 64.89,631.14 65.72,631.06 66.55,631.36 67.37,631.51 68.2,631.08 69.03,631.46 69.86,631.25 70.69,631.45 71.52,631.34 72.34,631.64 73.17,631.43 74,631.4 74.83,631.75 75.66,631.81 76.48,631.38 77.31,631.93 78.14,631.89 78.97,631.59 79.8,631.91 80.63,631.8 81.45,631.73 82.28,631.8 83.11,632.05 83.94,632.42 84.77,632.01 85.6,632.38 86.42,632.62 87.25,632.38 88.08,632.66 88.91,632.6 89.79,632.56 90.67,632.56 91.55,632.29 92.42,632.49 93.3,632.04 94.18,631.83 95.06,631.67 95.94,631.65 96.82,631.47 97.7,631.86 98.58,631.28 99.45,631.4 100.31,631.52 101.17,631.4 102.03,631.14 102.89,630.8 103.75,630.81 104.61,631.17 105.47,630.78 106.33,630.91 107.19,630.44 108.05,630.31 108.91,630.5 110,629.9 111.09,635.2 113.27,643.4 116.36,645.9 117.22,645.78 118.07,645.73 118.93,645.6 119.78,645.82 120.64,645.75 121.49,645.7 122.35,645.51 123.2,645.53 124.05,645.4 124.91,645.5 125.77,645.54 126.64,645.46 127.5,645.63 128.36,645.83 129.23,645.46 130.09,645.63 130.95,645.34 131.82,645.8 132.68,645.63 133.55,645.68 134.41,645.67 135.27,645.42 136.14,645.89 137,645.38 137.86,645.5 138.73,645.7 139.57,645.61 140.41,645.79 141.26,645.57 142.1,645.61 142.94,645.19 143.79,645.24 144.63,645.19 145.47,644.89 146.31,644.72 147.16,644.79 148,644.8 148.85,644.69 149.7,644.77 150.55,645.01 151.39,645.55 152.24,645.53 153.09,645.75 153.94,645.78 154.79,645.86 155.64,646 156.48,646.04 157.33,645.53 158.18,645.29 159.03,645.12 159.88,644.8 160.73,644.58 161.58,644.54 162.42,644.57 163.27,644.3 164.12,644.07 164.97,644.19 165.83,644.03 166.68,644.26 167.53,643.9 168.38,643.98 169.23,644.11 170.08,644.05 170.93,644.11 171.78,643.53 172.63,643.75 173.48,643.54 174.33,643.91 175.19,643.48 176.04,643.76 176.89,643.54 177.74,643.64 178.59,643.61 179.44,643.61 180.29,643.57 181.14,643.23 181.99,643.35 182.84,643.45 183.69,643.33 184.55,643.1 185.37,643.05 186.2,643.26 187.02,643.21 187.85,642.99 188.67,642.97 189.5,642.95 190.32,643.23 191.15,642.78 191.97,643.2 192.8,642.69 193.62,642.74 194.45,643.01 195.27,642.97 196.1,642.71 196.92,642.69 197.75,642.83 198.57,642.93 199.4,642.68 200.22,642.72 201.05,642.67 201.87,642.89 202.7,642.92 203.52,642.74 204.35,642.49 205.17,642.57 206,642.6 206.83,642.66 207.65,642.89 208.48,642.82 209.31,643.1 210.13,643.16 210.96,643.28 211.79,643.64 212.61,643.42 213.44,643.43 214.26,643.39 215.09,643.8 215.97,643.41 216.86,643.71 217.74,643.74 218.62,643.5 219.51,643.13 220.39,642.92 221.27,643.1 222.73,658.6 224.91,683.8 226.73,694 230.36,689.6 233.45,684.6 238,677.9 239.03,677.57 240.06,677.04 241.09,677 241.92,676.8 242.74,677.2 243.57,676.97 244.39,677.22 245.22,677.5 246.05,677.34 246.87,677.34 247.7,677.47 248.52,677.78 249.35,677.39 250.17,677.77 251,677.54 251.83,677.83 252.65,677.54 253.48,677.6 254.3,677.76 255.13,678.12 255.95,677.89 256.78,678.24 257.61,678.05 258.43,678.44 259.26,678.52 260.08,678.49 260.91,678.4 261.76,678.2 262.61,678.08 263.45,678.29 264.3,678.15 265.15,677.97 266,678.37 266.85,678.4 267.7,678.39 268.55,678.4 269.39,678.17 270.24,678.1 271.09,678.36 271.94,677.97 272.79,678.17 273.64,677.86 274.48,678.22 275.33,678 276.18,677.9 277.02,678.2 277.86,678.12 278.7,677.98 279.54,677.92 280.38,677.72 281.22,677.74 282.06,677.67 282.9,677.99 283.74,677.76 284.58,677.64 285.42,677.99 286.26,678.04 287.1,677.7 287.94,677.79 288.78,678.19 289.62,678.07 290.46,678.13 291.3,677.81 292.14,677.69 292.98,678.06 293.82,678.02 294.66,678.03 295.5,677.72 296.34,678.06 297.18,678.19 298.03,677.98 298.87,678 299.71,677.79 300.55,678 301.37,677.97 302.2,677.91 303.03,677.87 303.86,678.45 304.68,678.08 305.51,678.03 306.34,678.34 307.17,678.15 308,678.57 308.82,678.25 309.65,678.37 310.48,678.38 311.31,678.27 312.13,678.77 312.96,678.69 313.79,678.74 314.62,678.99 315.44,678.53 316.27,678.98 317.1,678.72 317.93,679.11 318.76,679.21 319.58,678.91 320.41,679.22 321.24,678.99 322.07,678.86 322.89,679.09 323.72,679.25 324.55,679.23 325.38,679.25 326.21,679.07 327.03,679.42 327.86,679.52 328.69,679.5 329.52,679.31 330.34,679.64 331.17,679.73 332,679.6" fill="none" stroke="#D95319" stroke-width="2.3" stroke-linejoin="round" stroke-linecap="butt"/></g>
<polygon points="382.6,683 384.2,688 386,687 385,691.5 383.6,693.8" fill="#D95319" stroke="#D95319" stroke-width="0.5" stroke-linejoin="round"/>
<text transform="translate(256.1 795.75) scale(0.84 1)" font-size="6.6" text-anchor="end">0</text>
<text transform="translate(256.1 767.68) scale(0.84 1)" font-size="6.6" text-anchor="end">0.5</text>
<text transform="translate(256.1 739.62) scale(0.84 1)" font-size="6.6" text-anchor="end">1</text>
<text transform="translate(256.1 711.55) scale(0.84 1)" font-size="6.6" text-anchor="end">1.5</text>
<text transform="translate(256.1 683.48) scale(0.84 1)" font-size="6.6" text-anchor="end">2</text>
<text transform="translate(256.1 655.42) scale(0.84 1)" font-size="6.6" text-anchor="end">2.5</text>
<text transform="translate(256.1 627.35) scale(0.84 1)" font-size="6.6" text-anchor="end">3</text>
<text transform="translate(258.7 803.2) scale(0.84 1)" font-size="6.6" text-anchor="middle">0</text>
<text transform="translate(289.13 803.2) scale(0.84 1)" font-size="6.6" text-anchor="middle">0.2</text>
<text transform="translate(319.57 803.2) scale(0.84 1)" font-size="6.6" text-anchor="middle">0.4</text>
<text transform="translate(350 803.2) scale(0.84 1)" font-size="6.6" text-anchor="middle">0.6</text>
<text transform="translate(380.43 803.2) scale(0.84 1)" font-size="6.6" text-anchor="middle">0.8</text>
<text transform="translate(410.87 803.2) scale(0.84 1)" font-size="6.6" text-anchor="middle">1</text>
<text transform="translate(441.3 803.2) scale(0.84 1)" font-size="6.6" text-anchor="middle">1.2</text>
<text transform="translate(246.9 709.2) rotate(-90)" font-size="7.2" text-anchor="middle" textLength="57.8" lengthAdjust="spacingAndGlyphs">Output Current(A)</text>
<text x="350" y="812.6" font-size="7.8" text-anchor="middle" textLength="27" lengthAdjust="spacingAndGlyphs">Time(sec)</text>
<path d="M528.38 625V793.4M558.77 625V793.4M589.15 625V793.4M619.53 625V793.4M649.92 625V793.4M498 765.33H680.3M498 737.27H680.3M498 709.2H680.3M498 681.13H680.3M498 653.07H680.3" stroke="#262626" stroke-opacity="0.13" stroke-width="0.7" fill="none"/>
<path d="M528.38 793.4v-1.8M528.38 625v1.8M558.77 793.4v-1.8M558.77 625v1.8M589.15 793.4v-1.8M589.15 625v1.8M619.53 793.4v-1.8M619.53 625v1.8M649.92 793.4v-1.8M649.92 625v1.8M498 765.33h1.8M680.3 765.33h-1.8M498 737.27h1.8M680.3 737.27h-1.8M498 709.2h1.8M680.3 709.2h-1.8M498 681.13h1.8M680.3 681.13h-1.8M498 653.07h1.8M680.3 653.07h-1.8" stroke="#262626" stroke-width="0.6" fill="none"/>
<rect x="498" y="625" width="182.3" height="168.4" stroke="#262626" stroke-width="0.6" fill="none"/>
<g transform="translate(498 0) scale(0.55 1)"><polyline points="0.55,793.2 1.09,737.5 5.09,670 7.27,657.4 9.45,651.5 10.48,651.05 11.52,651.15 12.55,650.9 13.42,650.78 14.3,651.04 15.17,650.81 16.05,650.7 16.93,650.89 17.8,650.44 18.68,650.73 19.55,650.42 20.43,650.51 21.31,650.64 22.18,650.3 23.01,650.52 23.84,650.43 24.67,650.58 25.49,650.15 26.32,650.42 27.15,650.72 27.98,650.69 28.81,650.54 29.64,650.44 30.46,650.54 31.29,650.62 32.12,650.47 32.95,651 33.78,650.86 34.61,650.82 35.43,650.64 36.26,650.76 37.09,650.9 37.93,650.87 38.78,650.73 39.62,650.86 40.47,650.9 41.31,651.14 42.15,651.26 43,650.75 43.84,650.84 44.68,651.29 45.53,650.81 46.37,650.97 47.21,651.18 48.06,651.18 48.9,651.01 49.75,651.35 50.59,651.35 51.43,650.94 52.28,651.39 53.12,651.21 53.96,651.3 54.81,651.37 55.65,651.43 56.49,651.54 57.34,651.19 58.18,651.4 59.04,651.21 59.89,651.22 60.75,651.21 61.6,651.57 62.45,651.62 63.31,651.32 64.16,651.51 65.02,651.58 65.87,651.62 66.73,651.56 67.58,651.45 68.44,651.58 69.29,651.3 70.15,651.46 71,651.26 71.85,651.34 72.71,651.33 73.56,651.4 74.42,651.1 75.27,651.4 76.1,651.43 76.93,651.53 77.76,651.85 78.59,651.79 79.41,651.52 80.24,651.74 81.07,652.02 81.9,651.68 82.73,652.22 83.56,651.79 84.38,652.24 85.21,652.24 86.04,652.54 86.87,652.26 87.7,652.29 88.53,652.27 89.35,652.4 90.18,652.6 91.01,652.43 91.84,652.53 92.67,652.28 93.5,652.16 94.33,652.52 95.16,651.98 95.99,652.45 96.82,651.97 97.65,652.21 98.48,652.13 99.31,652.2 100.14,652.03 100.97,651.51 101.8,651.9 102.63,651.97 103.46,651.8 104.29,651.58 105.12,651.23 105.95,651.16 106.78,651.23 107.61,651.45 108.44,651.05 109.27,651.2 110.91,650.5 111.27,655 113.45,663.2 116.73,666 117.59,666.12 118.45,666.31 119.31,666.29 120.17,666.46 121.02,666.59 121.88,666.63 122.74,666.28 123.6,666.75 124.46,666.78 125.32,667.01 126.18,666.9 127.13,666.83 128.07,666.85 129.02,666.87 129.96,667.19 130.91,667.3 131.76,667.14 132.61,667.55 133.45,667.48 134.3,667.4 135.15,667.43 136,667.32 136.85,667.39 137.7,667.89 138.55,667.5 139.39,667.77 140.24,667.83 141.09,667.98 141.94,667.68 142.79,667.86 143.64,667.75 144.48,667.78 145.33,667.98 146.18,668.1 147.01,668.23 147.83,668.21 148.66,668.36 149.49,668.57 150.31,668.36 151.14,668.97 151.97,668.57 152.79,668.91 153.62,669.21 154.45,668.9 155.27,669.3 156.12,669.01 156.96,668.85 157.8,668.84 158.64,669.02 159.49,669.04 160.33,669.09 161.17,668.75 162.02,668.87 162.86,668.51 163.7,668.5 164.55,668.4 165.36,668.66 166.18,668.09 167,668.61 167.82,668.23 168.64,668.31 169.45,668.59 170.27,668.28 171.09,668.56 171.91,668.4 172.73,668.07 173.55,668.56 174.36,667.98 175.18,668.36 176,668.13 176.82,668.5 177.64,668.06 178.45,668.01 179.27,668.04 180.09,668.31 180.91,668.11 181.73,668.22 182.55,668.39 183.36,668.26 184.18,668.32 185,667.98 185.82,668.1 186.66,667.88 187.5,668.15 188.34,667.98 189.18,668.35 190.02,668.25 190.86,668.3 191.7,668.1 192.54,668.23 193.38,668.51 194.22,668.42 195.06,668.26 195.9,668.42 196.74,668.43 197.58,668.65 198.42,668.55 199.26,668.25 200.1,668.26 200.94,668.37 201.78,668.75 202.62,668.51 203.46,668.31 204.3,668.72 205.14,668.62 205.98,668.52 206.82,668.45 207.66,668.85 208.5,668.77 209.34,669.03 210.18,668.8 211.06,668.77 211.95,669 212.83,669.43 213.71,669.51 214.6,669.35 215.48,669.51 216.36,669.8 217.27,669.83 218.18,669.55 219.09,669.2 220,669.38 220.91,669.3 222.55,682 224.91,696.6 226,696.36 227.09,695.6 227.94,695.61 228.8,695.56 229.65,695.56 230.5,695.4 231.35,695.88 232.2,695.46 233.06,695.64 233.91,695.68 234.76,695.58 235.61,695.45 236.47,695.47 237.32,695.98 238.17,696.03 239.02,695.8 239.87,696.08 240.73,695.8 241.55,696.03 242.38,695.93 243.2,695.65 244.03,695.68 244.85,695.58 245.68,696.01 246.5,695.59 247.33,696.15 248.15,696 248.98,696.13 249.8,695.9 250.63,696.15 251.45,695.92 252.28,695.85 253.1,696.2 253.93,695.7 254.76,696.17 255.58,696.04 256.41,696.25 257.23,696.25 258.06,695.79 258.88,695.99 259.71,696.05 260.53,696.14 261.36,695.84 262.18,696.1 263.03,696.28 263.88,695.75 264.73,695.68 265.58,696.16 266.42,695.89 267.27,696.07 268.12,695.7 268.97,696.03 269.82,695.96 270.67,695.43 271.52,695.51 272.36,695.31 273.21,695.56 274.06,695.23 274.91,695.58 275.76,695.24 276.61,695.58 277.45,695.3 278.29,695.27 279.13,695.19 279.97,695.18 280.82,695.59 281.66,695.35 282.5,695.55 283.34,695.37 284.18,695.59 285.02,695.25 285.86,695.61 286.7,695.26 287.54,695.8 288.38,695.28 289.22,695.63 290.06,695.29 290.9,695.3 291.74,695.8 292.58,695.89 293.42,695.35 294.26,695.55 295.1,695.58 295.94,695.41 296.78,695.64 297.62,695.64 298.46,695.67 299.3,695.87 300.14,695.72 300.98,695.5 301.82,695.8 302.64,695.92 303.45,695.7 304.27,695.88 305.09,696.05 305.91,695.69 306.73,696.27 307.55,696.31 308.36,696.06 309.18,695.88 310,696.1 310.82,696.33 311.64,696.32 312.45,696.47 313.27,696.43 314.09,696.47 314.91,696.46 315.73,696.25 316.55,696.24 317.36,696.62 318.18,696.52 319,696.4 319.82,696.75 320.64,696.29 321.45,696.83 322.27,696.43 323.09,696.69 323.91,696.73 324.73,696.81 325.55,696.48 326.36,696.88 327.18,696.58 328,696.66 328.82,696.78 329.64,697.19 330.45,696.78 331.27,697" fill="none" stroke="#77AC30" stroke-width="1.9" stroke-linejoin="round" stroke-linecap="butt"/></g>
<text transform="translate(495.9 796.15) scale(0.9 1)" font-size="6.6" text-anchor="end">0</text>
<text transform="translate(495.9 768.08) scale(0.9 1)" font-size="6.6" text-anchor="end">0.5</text>
<text transform="translate(495.9 740.02) scale(0.9 1)" font-size="6.6" text-anchor="end">1</text>
<text transform="translate(495.9 711.95) scale(0.9 1)" font-size="6.6" text-anchor="end">1.5</text>
<text transform="translate(495.9 683.88) scale(0.9 1)" font-size="6.6" text-anchor="end">2</text>
<text transform="translate(495.9 655.82) scale(0.9 1)" font-size="6.6" text-anchor="end">2.5</text>
<text transform="translate(495.9 627.75) scale(0.9 1)" font-size="6.6" text-anchor="end">3</text>
<text transform="translate(498 803.2) scale(0.84 1)" font-size="6.6" text-anchor="middle">0</text>
<text transform="translate(528.38 803.2) scale(0.84 1)" font-size="6.6" text-anchor="middle">0.2</text>
<text transform="translate(558.77 803.2) scale(0.84 1)" font-size="6.6" text-anchor="middle">0.4</text>
<text transform="translate(589.15 803.2) scale(0.84 1)" font-size="6.6" text-anchor="middle">0.6</text>
<text transform="translate(619.53 803.2) scale(0.84 1)" font-size="6.6" text-anchor="middle">0.8</text>
<text transform="translate(649.92 803.2) scale(0.84 1)" font-size="6.6" text-anchor="middle">1</text>
<text transform="translate(680.3 803.2) scale(0.84 1)" font-size="6.6" text-anchor="middle">1.2</text>
<text transform="translate(484.9 709.2) rotate(-90)" font-size="7.2" text-anchor="middle" textLength="59.2" lengthAdjust="spacingAndGlyphs">Output Current (A)</text>
<text x="589.15" y="812.6" font-size="7.8" text-anchor="middle" textLength="28.9" lengthAdjust="spacingAndGlyphs">Time (sec)</text>
</svg>
</body></html>
